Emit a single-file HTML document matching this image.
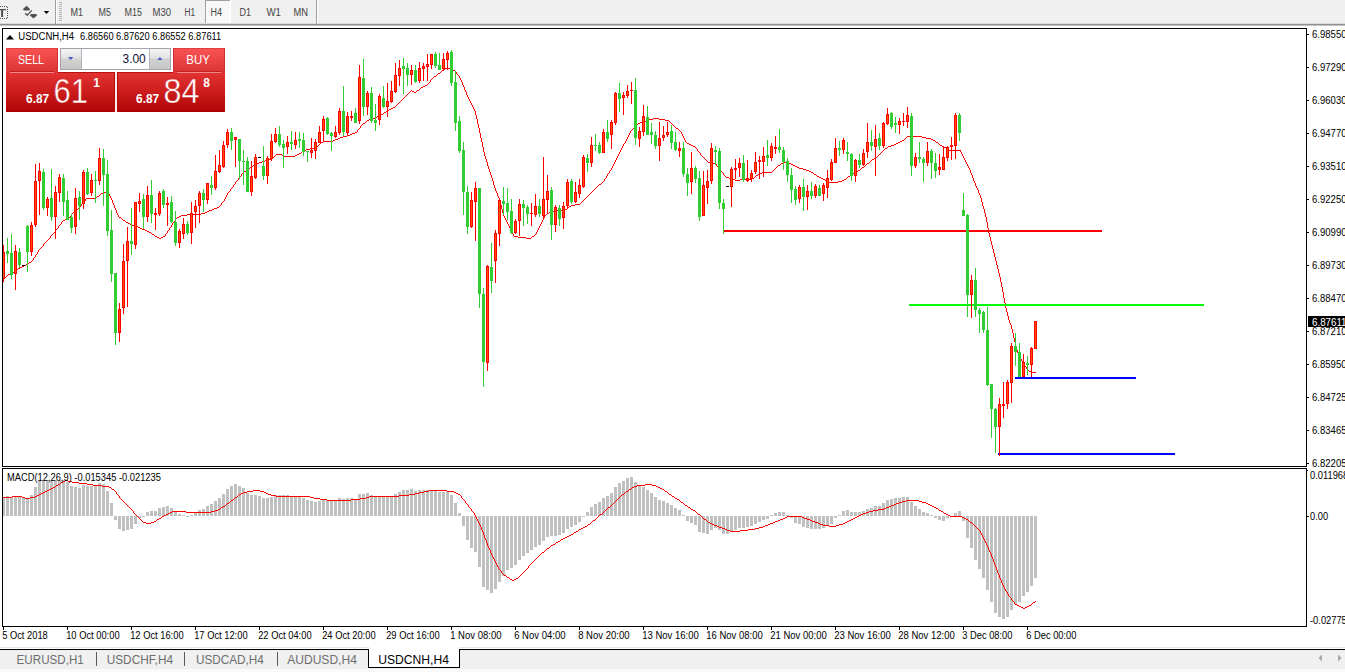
<!DOCTYPE html>
<html><head><meta charset="utf-8"><title>USDCNH,H4</title>
<style>
html,body{margin:0;padding:0;background:#fff;overflow:hidden}
body{width:1345px;height:672px;font-family:"Liberation Sans",sans-serif}
svg{display:block;font-family:"Liberation Sans",sans-serif}
</style></head><body>
<svg width="1345" height="672" viewBox="0 0 1345 672">
<rect x="0" y="0" width="1345" height="24" fill="#f0f0f0" />
<rect x="0" y="23" width="1345" height="1" fill="#dcdcdc" />
<rect x="0" y="24" width="1345" height="1" fill="#8e8e8e" />
<rect x="0" y="25" width="1345" height="1" fill="#c4c4c4" />
<path d="M0 9H6V10.3H3.1V17H1.1V10.3H0Z" fill="#505050"/>
<path d="M0 6.5H8M7.5 7V19M0 18.5H8" stroke="#505050" stroke-width="1" stroke-dasharray="1 1" fill="none"/>
<path d="M26.5 5.8L30.2 9.2L29 10.4H24L22.8 9.2Z" fill="#505050"/>
<path d="M33.5 18.6L29.8 15.2L31 14H36L37.2 15.2Z" fill="#505050"/>
<path d="M25.2 13.2L27.2 15.2L31.8 10.4" stroke="#505050" stroke-width="1.3" fill="none"/>
<path d="M43.8 11H49.2L46.5 14Z" fill="#000"/>
<rect x="55" y="0" width="1" height="24" fill="#a0a0a0" />
<rect x="56" y="0" width="1" height="24" fill="#ffffff" />
<rect x="59" y="2" width="3" height="1" fill="#b4b4b4" />
<rect x="59" y="4" width="3" height="1" fill="#b4b4b4" />
<rect x="59" y="6" width="3" height="1" fill="#b4b4b4" />
<rect x="59" y="8" width="3" height="1" fill="#b4b4b4" />
<rect x="59" y="10" width="3" height="1" fill="#b4b4b4" />
<rect x="59" y="12" width="3" height="1" fill="#b4b4b4" />
<rect x="59" y="14" width="3" height="1" fill="#b4b4b4" />
<rect x="59" y="16" width="3" height="1" fill="#b4b4b4" />
<rect x="59" y="18" width="3" height="1" fill="#b4b4b4" />
<rect x="59" y="20" width="3" height="1" fill="#b4b4b4" />
<rect x="205" y="0" width="25" height="23" fill="#f8f8f8" />
<rect x="205" y="0" width="25" height="1" fill="#a0a0a0" />
<rect x="205" y="0" width="1" height="23" fill="#a0a0a0" />
<rect x="230" y="0" width="1" height="23" fill="#ffffff" />
<rect x="316" y="0" width="1" height="24" fill="#a0a0a0" />
<rect x="317" y="0" width="1" height="24" fill="#ffffff" />
<text x="70.5" y="16" font-size="10" fill="#454545" textLength="12.5" lengthAdjust="spacingAndGlyphs" >M1</text>
<text x="98.5" y="16" font-size="10" fill="#454545" textLength="12.5" lengthAdjust="spacingAndGlyphs" >M5</text>
<text x="124.5" y="16" font-size="10" fill="#454545" textLength="17.5" lengthAdjust="spacingAndGlyphs" >M15</text>
<text x="152.5" y="16" font-size="10" fill="#454545" textLength="18.5" lengthAdjust="spacingAndGlyphs" >M30</text>
<text x="184.5" y="16" font-size="10" fill="#454545" textLength="10.5" lengthAdjust="spacingAndGlyphs" >H1</text>
<text x="210.5" y="16" font-size="10" fill="#454545" textLength="11.5" lengthAdjust="spacingAndGlyphs" >H4</text>
<text x="239.5" y="16" font-size="10" fill="#454545" textLength="11.5" lengthAdjust="spacingAndGlyphs" >D1</text>
<text x="266.5" y="16" font-size="10" fill="#454545" textLength="14.5" lengthAdjust="spacingAndGlyphs" >W1</text>
<text x="293.5" y="16" font-size="10" fill="#454545" textLength="14.5" lengthAdjust="spacingAndGlyphs" >MN</text>
<rect x="2.5" y="28.5" width="1304" height="438" fill="#fff" stroke="#000" stroke-width="1"/>
<rect x="2.5" y="468.5" width="1304" height="158" fill="#fff" stroke="#000" stroke-width="1"/>
<rect x="1307" y="34" width="2" height="1" fill="#000" />
<text x="1312" y="38" font-size="10" fill="#000" textLength="34.5" lengthAdjust="spacingAndGlyphs" >6.98550</text>
<rect x="1307" y="67" width="2" height="1" fill="#000" />
<text x="1312" y="71" font-size="10" fill="#000" textLength="34.5" lengthAdjust="spacingAndGlyphs" >6.97290</text>
<rect x="1307" y="100" width="2" height="1" fill="#000" />
<text x="1312" y="104" font-size="10" fill="#000" textLength="34.5" lengthAdjust="spacingAndGlyphs" >6.96030</text>
<rect x="1307" y="133" width="2" height="1" fill="#000" />
<text x="1312" y="137" font-size="10" fill="#000" textLength="34.5" lengthAdjust="spacingAndGlyphs" >6.94770</text>
<rect x="1307" y="166" width="2" height="1" fill="#000" />
<text x="1312" y="170" font-size="10" fill="#000" textLength="34.5" lengthAdjust="spacingAndGlyphs" >6.93510</text>
<rect x="1307" y="199" width="2" height="1" fill="#000" />
<text x="1312" y="203" font-size="10" fill="#000" textLength="34.5" lengthAdjust="spacingAndGlyphs" >6.92250</text>
<rect x="1307" y="232" width="2" height="1" fill="#000" />
<text x="1312" y="236" font-size="10" fill="#000" textLength="34.5" lengthAdjust="spacingAndGlyphs" >6.90990</text>
<rect x="1307" y="265" width="2" height="1" fill="#000" />
<text x="1312" y="269" font-size="10" fill="#000" textLength="34.5" lengthAdjust="spacingAndGlyphs" >6.89730</text>
<rect x="1307" y="298" width="2" height="1" fill="#000" />
<text x="1312" y="302" font-size="10" fill="#000" textLength="34.5" lengthAdjust="spacingAndGlyphs" >6.88470</text>
<rect x="1307" y="331" width="2" height="1" fill="#000" />
<text x="1312" y="335" font-size="10" fill="#000" textLength="34.5" lengthAdjust="spacingAndGlyphs" >6.87210</text>
<rect x="1307" y="364" width="2" height="1" fill="#000" />
<text x="1312" y="368" font-size="10" fill="#000" textLength="34.5" lengthAdjust="spacingAndGlyphs" >6.85950</text>
<rect x="1307" y="397" width="2" height="1" fill="#000" />
<text x="1312" y="401" font-size="10" fill="#000" textLength="34.5" lengthAdjust="spacingAndGlyphs" >6.84725</text>
<rect x="1307" y="430" width="2" height="1" fill="#000" />
<text x="1312" y="434" font-size="10" fill="#000" textLength="34.5" lengthAdjust="spacingAndGlyphs" >6.83465</text>
<rect x="1307" y="463" width="2" height="1" fill="#000" />
<text x="1312" y="467" font-size="10" fill="#000" textLength="34.5" lengthAdjust="spacingAndGlyphs" >6.82205</text>
<rect x="1308" y="316" width="37" height="11" fill="#000" />
<text x="1312" y="326" font-size="10" fill="#fff" textLength="34.5" lengthAdjust="spacingAndGlyphs" >6.87611</text>
<text x="1310" y="479.4" font-size="10" fill="#000" textLength="38.2" lengthAdjust="spacingAndGlyphs" >0.011968</text>
<text x="1310" y="520.4" font-size="10" fill="#000" textLength="18.1" lengthAdjust="spacingAndGlyphs" >0.00</text>
<text x="1310" y="624.4" font-size="10" fill="#000" textLength="36.8" lengthAdjust="spacingAndGlyphs" >-0.02775</text>
<rect x="1307" y="516" width="2" height="1" fill="#000" />
<rect x="1307" y="470" width="1" height="1" fill="#000" />
<rect x="3" y="627" width="1" height="3" fill="#000" />
<text x="2.2" y="639" font-size="10" fill="#000" textLength="45.6" lengthAdjust="spacingAndGlyphs" >5 Oct 2018</text>
<rect x="67" y="627" width="1" height="3" fill="#000" />
<text x="66.2" y="639" font-size="10" fill="#000" textLength="53.4" lengthAdjust="spacingAndGlyphs" >10 Oct 00:00</text>
<rect x="131" y="627" width="1" height="3" fill="#000" />
<text x="130.2" y="639" font-size="10" fill="#000" textLength="53.4" lengthAdjust="spacingAndGlyphs" >12 Oct 16:00</text>
<rect x="195" y="627" width="1" height="3" fill="#000" />
<text x="194.2" y="639" font-size="10" fill="#000" textLength="53.4" lengthAdjust="spacingAndGlyphs" >17 Oct 12:00</text>
<rect x="259" y="627" width="1" height="3" fill="#000" />
<text x="258.2" y="639" font-size="10" fill="#000" textLength="53.4" lengthAdjust="spacingAndGlyphs" >22 Oct 04:00</text>
<rect x="323" y="627" width="1" height="3" fill="#000" />
<text x="322.2" y="639" font-size="10" fill="#000" textLength="53.4" lengthAdjust="spacingAndGlyphs" >24 Oct 20:00</text>
<rect x="387" y="627" width="1" height="3" fill="#000" />
<text x="386.2" y="639" font-size="10" fill="#000" textLength="53.4" lengthAdjust="spacingAndGlyphs" >29 Oct 16:00</text>
<rect x="451" y="627" width="1" height="3" fill="#000" />
<text x="450.2" y="639" font-size="10" fill="#000" textLength="51.3" lengthAdjust="spacingAndGlyphs" >1 Nov 08:00</text>
<rect x="515" y="627" width="1" height="3" fill="#000" />
<text x="514.2" y="639" font-size="10" fill="#000" textLength="51.3" lengthAdjust="spacingAndGlyphs" >6 Nov 04:00</text>
<rect x="579" y="627" width="1" height="3" fill="#000" />
<text x="578.2" y="639" font-size="10" fill="#000" textLength="51.3" lengthAdjust="spacingAndGlyphs" >8 Nov 20:00</text>
<rect x="643" y="627" width="1" height="3" fill="#000" />
<text x="642.2" y="639" font-size="10" fill="#000" textLength="56.6" lengthAdjust="spacingAndGlyphs" >13 Nov 16:00</text>
<rect x="707" y="627" width="1" height="3" fill="#000" />
<text x="706.2" y="639" font-size="10" fill="#000" textLength="56.6" lengthAdjust="spacingAndGlyphs" >16 Nov 08:00</text>
<rect x="771" y="627" width="1" height="3" fill="#000" />
<text x="770.2" y="639" font-size="10" fill="#000" textLength="56.6" lengthAdjust="spacingAndGlyphs" >21 Nov 00:00</text>
<rect x="835" y="627" width="1" height="3" fill="#000" />
<text x="834.2" y="639" font-size="10" fill="#000" textLength="56.6" lengthAdjust="spacingAndGlyphs" >23 Nov 16:00</text>
<rect x="899" y="627" width="1" height="3" fill="#000" />
<text x="898.2" y="639" font-size="10" fill="#000" textLength="56.6" lengthAdjust="spacingAndGlyphs" >28 Nov 12:00</text>
<rect x="963" y="627" width="1" height="3" fill="#000" />
<text x="962.2" y="639" font-size="10" fill="#000" textLength="50.3" lengthAdjust="spacingAndGlyphs" >3 Dec 08:00</text>
<rect x="1027" y="627" width="1" height="3" fill="#000" />
<text x="1026.2" y="639" font-size="10" fill="#000" textLength="50.3" lengthAdjust="spacingAndGlyphs" >6 Dec 00:00</text>
<rect x="0" y="647" width="1345" height="1" fill="#e6e6e6" />
<rect x="0" y="649" width="1345" height="1" fill="#000" />
<rect x="0" y="650" width="1345" height="19" fill="#f0f0f0" />
<rect x="0" y="669" width="1345" height="3" fill="#fafafa" />
<defs><clipPath id="c1"><rect x="3" y="29" width="1303" height="437"/></clipPath><clipPath id="c2"><rect x="3" y="469" width="1303" height="157"/></clipPath></defs>
<g clip-path="url(#c2)" shape-rendering="crispEdges">
<rect x="2" y="497" width="3" height="19" fill="#c0c0c0" />
<rect x="6" y="496" width="3" height="20" fill="#c0c0c0" />
<rect x="10" y="497" width="3" height="19" fill="#c0c0c0" />
<rect x="14" y="497" width="3" height="19" fill="#c0c0c0" />
<rect x="18" y="497" width="3" height="19" fill="#c0c0c0" />
<rect x="22" y="498" width="3" height="18" fill="#c0c0c0" />
<rect x="26" y="498" width="3" height="18" fill="#c0c0c0" />
<rect x="30" y="495" width="3" height="21" fill="#c0c0c0" />
<rect x="34" y="487" width="3" height="29" fill="#c0c0c0" />
<rect x="38" y="481" width="3" height="35" fill="#c0c0c0" />
<rect x="42" y="480" width="3" height="36" fill="#c0c0c0" />
<rect x="46" y="480" width="3" height="36" fill="#c0c0c0" />
<rect x="50" y="480" width="3" height="36" fill="#c0c0c0" />
<rect x="54" y="480" width="3" height="36" fill="#c0c0c0" />
<rect x="58" y="480" width="3" height="36" fill="#c0c0c0" />
<rect x="62" y="480" width="3" height="36" fill="#c0c0c0" />
<rect x="66" y="482" width="3" height="34" fill="#c0c0c0" />
<rect x="70" y="486" width="3" height="30" fill="#c0c0c0" />
<rect x="74" y="487" width="3" height="29" fill="#c0c0c0" />
<rect x="78" y="488" width="3" height="28" fill="#c0c0c0" />
<rect x="82" y="485" width="3" height="31" fill="#c0c0c0" />
<rect x="86" y="486" width="3" height="30" fill="#c0c0c0" />
<rect x="90" y="486" width="3" height="30" fill="#c0c0c0" />
<rect x="94" y="486" width="3" height="30" fill="#c0c0c0" />
<rect x="98" y="483" width="3" height="33" fill="#c0c0c0" />
<rect x="102" y="484" width="3" height="32" fill="#c0c0c0" />
<rect x="106" y="491" width="3" height="25" fill="#c0c0c0" />
<rect x="110" y="503" width="3" height="13" fill="#c0c0c0" />
<rect x="114" y="516" width="3" height="4" fill="#c0c0c0" />
<rect x="118" y="516" width="3" height="13" fill="#c0c0c0" />
<rect x="122" y="516" width="3" height="15" fill="#c0c0c0" />
<rect x="126" y="516" width="3" height="14" fill="#c0c0c0" />
<rect x="130" y="516" width="3" height="13" fill="#c0c0c0" />
<rect x="134" y="516" width="3" height="8" fill="#c0c0c0" />
<rect x="138" y="516" width="3" height="2" fill="#c0c0c0" />
<rect x="142" y="516" width="3" height="1" fill="#c0c0c0" />
<rect x="146" y="512" width="3" height="4" fill="#c0c0c0" />
<rect x="150" y="511" width="3" height="5" fill="#c0c0c0" />
<rect x="154" y="511" width="3" height="5" fill="#c0c0c0" />
<rect x="158" y="508" width="3" height="8" fill="#c0c0c0" />
<rect x="162" y="507" width="3" height="9" fill="#c0c0c0" />
<rect x="166" y="506" width="3" height="10" fill="#c0c0c0" />
<rect x="170" y="508" width="3" height="8" fill="#c0c0c0" />
<rect x="174" y="512" width="3" height="4" fill="#c0c0c0" />
<rect x="178" y="514" width="3" height="2" fill="#c0c0c0" />
<rect x="182" y="515" width="3" height="1" fill="#c0c0c0" />
<rect x="186" y="516" width="3" height="1" fill="#c0c0c0" />
<rect x="190" y="515" width="3" height="1" fill="#c0c0c0" />
<rect x="194" y="512" width="3" height="4" fill="#c0c0c0" />
<rect x="198" y="510" width="3" height="6" fill="#c0c0c0" />
<rect x="202" y="509" width="3" height="7" fill="#c0c0c0" />
<rect x="206" y="506" width="3" height="10" fill="#c0c0c0" />
<rect x="210" y="504" width="3" height="12" fill="#c0c0c0" />
<rect x="214" y="501" width="3" height="15" fill="#c0c0c0" />
<rect x="218" y="498" width="3" height="18" fill="#c0c0c0" />
<rect x="222" y="494" width="3" height="22" fill="#c0c0c0" />
<rect x="226" y="489" width="3" height="27" fill="#c0c0c0" />
<rect x="230" y="486" width="3" height="30" fill="#c0c0c0" />
<rect x="234" y="484" width="3" height="32" fill="#c0c0c0" />
<rect x="238" y="486" width="3" height="30" fill="#c0c0c0" />
<rect x="242" y="488" width="3" height="28" fill="#c0c0c0" />
<rect x="246" y="493" width="3" height="23" fill="#c0c0c0" />
<rect x="250" y="495" width="3" height="21" fill="#c0c0c0" />
<rect x="254" y="495" width="3" height="21" fill="#c0c0c0" />
<rect x="258" y="496" width="3" height="20" fill="#c0c0c0" />
<rect x="262" y="498" width="3" height="18" fill="#c0c0c0" />
<rect x="266" y="498" width="3" height="18" fill="#c0c0c0" />
<rect x="270" y="497" width="3" height="19" fill="#c0c0c0" />
<rect x="274" y="495" width="3" height="21" fill="#c0c0c0" />
<rect x="278" y="495" width="3" height="21" fill="#c0c0c0" />
<rect x="282" y="495" width="3" height="21" fill="#c0c0c0" />
<rect x="286" y="495" width="3" height="21" fill="#c0c0c0" />
<rect x="290" y="496" width="3" height="20" fill="#c0c0c0" />
<rect x="294" y="496" width="3" height="20" fill="#c0c0c0" />
<rect x="298" y="496" width="3" height="20" fill="#c0c0c0" />
<rect x="302" y="498" width="3" height="18" fill="#c0c0c0" />
<rect x="306" y="500" width="3" height="16" fill="#c0c0c0" />
<rect x="310" y="501" width="3" height="15" fill="#c0c0c0" />
<rect x="314" y="502" width="3" height="14" fill="#c0c0c0" />
<rect x="318" y="501" width="3" height="15" fill="#c0c0c0" />
<rect x="322" y="500" width="3" height="16" fill="#c0c0c0" />
<rect x="326" y="500" width="3" height="16" fill="#c0c0c0" />
<rect x="330" y="501" width="3" height="15" fill="#c0c0c0" />
<rect x="334" y="500" width="3" height="16" fill="#c0c0c0" />
<rect x="338" y="498" width="3" height="18" fill="#c0c0c0" />
<rect x="342" y="499" width="3" height="17" fill="#c0c0c0" />
<rect x="346" y="498" width="3" height="18" fill="#c0c0c0" />
<rect x="350" y="498" width="3" height="18" fill="#c0c0c0" />
<rect x="354" y="499" width="3" height="17" fill="#c0c0c0" />
<rect x="358" y="494" width="3" height="22" fill="#c0c0c0" />
<rect x="362" y="494" width="3" height="22" fill="#c0c0c0" />
<rect x="366" y="493" width="3" height="23" fill="#c0c0c0" />
<rect x="370" y="495" width="3" height="21" fill="#c0c0c0" />
<rect x="374" y="496" width="3" height="20" fill="#c0c0c0" />
<rect x="378" y="496" width="3" height="20" fill="#c0c0c0" />
<rect x="382" y="496" width="3" height="20" fill="#c0c0c0" />
<rect x="386" y="496" width="3" height="20" fill="#c0c0c0" />
<rect x="390" y="496" width="3" height="20" fill="#c0c0c0" />
<rect x="394" y="494" width="3" height="22" fill="#c0c0c0" />
<rect x="398" y="492" width="3" height="24" fill="#c0c0c0" />
<rect x="402" y="490" width="3" height="26" fill="#c0c0c0" />
<rect x="406" y="490" width="3" height="26" fill="#c0c0c0" />
<rect x="410" y="489" width="3" height="27" fill="#c0c0c0" />
<rect x="414" y="491" width="3" height="25" fill="#c0c0c0" />
<rect x="418" y="490" width="3" height="26" fill="#c0c0c0" />
<rect x="422" y="490" width="3" height="26" fill="#c0c0c0" />
<rect x="426" y="490" width="3" height="26" fill="#c0c0c0" />
<rect x="430" y="490" width="3" height="26" fill="#c0c0c0" />
<rect x="434" y="490" width="3" height="26" fill="#c0c0c0" />
<rect x="438" y="492" width="3" height="24" fill="#c0c0c0" />
<rect x="442" y="492" width="3" height="24" fill="#c0c0c0" />
<rect x="446" y="492" width="3" height="24" fill="#c0c0c0" />
<rect x="450" y="495" width="3" height="21" fill="#c0c0c0" />
<rect x="454" y="503" width="3" height="13" fill="#c0c0c0" />
<rect x="458" y="513" width="3" height="3" fill="#c0c0c0" />
<rect x="462" y="516" width="3" height="10" fill="#c0c0c0" />
<rect x="466" y="516" width="3" height="24" fill="#c0c0c0" />
<rect x="470" y="516" width="3" height="32" fill="#c0c0c0" />
<rect x="474" y="516" width="3" height="36" fill="#c0c0c0" />
<rect x="478" y="516" width="3" height="51" fill="#c0c0c0" />
<rect x="482" y="516" width="3" height="71" fill="#c0c0c0" />
<rect x="486" y="516" width="3" height="74" fill="#c0c0c0" />
<rect x="490" y="516" width="3" height="77" fill="#c0c0c0" />
<rect x="494" y="516" width="3" height="73" fill="#c0c0c0" />
<rect x="498" y="516" width="3" height="66" fill="#c0c0c0" />
<rect x="502" y="516" width="3" height="60" fill="#c0c0c0" />
<rect x="506" y="516" width="3" height="54" fill="#c0c0c0" />
<rect x="510" y="516" width="3" height="52" fill="#c0c0c0" />
<rect x="514" y="516" width="3" height="49" fill="#c0c0c0" />
<rect x="518" y="516" width="3" height="44" fill="#c0c0c0" />
<rect x="522" y="516" width="3" height="40" fill="#c0c0c0" />
<rect x="526" y="516" width="3" height="37" fill="#c0c0c0" />
<rect x="530" y="516" width="3" height="34" fill="#c0c0c0" />
<rect x="534" y="516" width="3" height="31" fill="#c0c0c0" />
<rect x="538" y="516" width="3" height="29" fill="#c0c0c0" />
<rect x="542" y="516" width="3" height="25" fill="#c0c0c0" />
<rect x="546" y="516" width="3" height="21" fill="#c0c0c0" />
<rect x="550" y="516" width="3" height="20" fill="#c0c0c0" />
<rect x="554" y="516" width="3" height="20" fill="#c0c0c0" />
<rect x="558" y="516" width="3" height="19" fill="#c0c0c0" />
<rect x="562" y="516" width="3" height="17" fill="#c0c0c0" />
<rect x="566" y="516" width="3" height="13" fill="#c0c0c0" />
<rect x="570" y="516" width="3" height="11" fill="#c0c0c0" />
<rect x="574" y="516" width="3" height="9" fill="#c0c0c0" />
<rect x="578" y="516" width="3" height="6" fill="#c0c0c0" />
<rect x="582" y="516" width="3" height="1" fill="#c0c0c0" />
<rect x="586" y="512" width="3" height="4" fill="#c0c0c0" />
<rect x="590" y="507" width="3" height="9" fill="#c0c0c0" />
<rect x="594" y="504" width="3" height="12" fill="#c0c0c0" />
<rect x="598" y="502" width="3" height="14" fill="#c0c0c0" />
<rect x="602" y="498" width="3" height="18" fill="#c0c0c0" />
<rect x="606" y="496" width="3" height="20" fill="#c0c0c0" />
<rect x="610" y="493" width="3" height="23" fill="#c0c0c0" />
<rect x="614" y="487" width="3" height="29" fill="#c0c0c0" />
<rect x="618" y="483" width="3" height="33" fill="#c0c0c0" />
<rect x="622" y="481" width="3" height="35" fill="#c0c0c0" />
<rect x="626" y="478" width="3" height="38" fill="#c0c0c0" />
<rect x="630" y="477" width="3" height="39" fill="#c0c0c0" />
<rect x="634" y="482" width="3" height="34" fill="#c0c0c0" />
<rect x="638" y="485" width="3" height="31" fill="#c0c0c0" />
<rect x="642" y="487" width="3" height="29" fill="#c0c0c0" />
<rect x="646" y="490" width="3" height="26" fill="#c0c0c0" />
<rect x="650" y="493" width="3" height="23" fill="#c0c0c0" />
<rect x="654" y="497" width="3" height="19" fill="#c0c0c0" />
<rect x="658" y="500" width="3" height="16" fill="#c0c0c0" />
<rect x="662" y="501" width="3" height="15" fill="#c0c0c0" />
<rect x="666" y="503" width="3" height="13" fill="#c0c0c0" />
<rect x="670" y="505" width="3" height="11" fill="#c0c0c0" />
<rect x="674" y="508" width="3" height="8" fill="#c0c0c0" />
<rect x="678" y="510" width="3" height="6" fill="#c0c0c0" />
<rect x="682" y="515" width="3" height="1" fill="#c0c0c0" />
<rect x="686" y="516" width="3" height="5" fill="#c0c0c0" />
<rect x="690" y="516" width="3" height="7" fill="#c0c0c0" />
<rect x="694" y="516" width="3" height="9" fill="#c0c0c0" />
<rect x="698" y="516" width="3" height="16" fill="#c0c0c0" />
<rect x="702" y="516" width="3" height="17" fill="#c0c0c0" />
<rect x="706" y="516" width="3" height="18" fill="#c0c0c0" />
<rect x="710" y="516" width="3" height="14" fill="#c0c0c0" />
<rect x="714" y="516" width="3" height="12" fill="#c0c0c0" />
<rect x="718" y="516" width="3" height="14" fill="#c0c0c0" />
<rect x="722" y="516" width="3" height="18" fill="#c0c0c0" />
<rect x="726" y="516" width="3" height="18" fill="#c0c0c0" />
<rect x="730" y="516" width="3" height="16" fill="#c0c0c0" />
<rect x="734" y="516" width="3" height="14" fill="#c0c0c0" />
<rect x="738" y="516" width="3" height="12" fill="#c0c0c0" />
<rect x="742" y="516" width="3" height="12" fill="#c0c0c0" />
<rect x="746" y="516" width="3" height="11" fill="#c0c0c0" />
<rect x="750" y="516" width="3" height="10" fill="#c0c0c0" />
<rect x="754" y="516" width="3" height="8" fill="#c0c0c0" />
<rect x="758" y="516" width="3" height="6" fill="#c0c0c0" />
<rect x="762" y="516" width="3" height="4" fill="#c0c0c0" />
<rect x="766" y="516" width="3" height="3" fill="#c0c0c0" />
<rect x="770" y="515" width="3" height="1" fill="#c0c0c0" />
<rect x="774" y="513" width="3" height="3" fill="#c0c0c0" />
<rect x="778" y="512" width="3" height="4" fill="#c0c0c0" />
<rect x="782" y="512" width="3" height="4" fill="#c0c0c0" />
<rect x="786" y="515" width="3" height="1" fill="#c0c0c0" />
<rect x="790" y="516" width="3" height="2" fill="#c0c0c0" />
<rect x="794" y="516" width="3" height="7" fill="#c0c0c0" />
<rect x="798" y="516" width="3" height="8" fill="#c0c0c0" />
<rect x="802" y="516" width="3" height="11" fill="#c0c0c0" />
<rect x="806" y="516" width="3" height="12" fill="#c0c0c0" />
<rect x="810" y="516" width="3" height="13" fill="#c0c0c0" />
<rect x="814" y="516" width="3" height="13" fill="#c0c0c0" />
<rect x="818" y="516" width="3" height="13" fill="#c0c0c0" />
<rect x="822" y="516" width="3" height="12" fill="#c0c0c0" />
<rect x="826" y="516" width="3" height="10" fill="#c0c0c0" />
<rect x="830" y="516" width="3" height="8" fill="#c0c0c0" />
<rect x="834" y="516" width="3" height="2" fill="#c0c0c0" />
<rect x="838" y="515" width="3" height="1" fill="#c0c0c0" />
<rect x="842" y="511" width="3" height="5" fill="#c0c0c0" />
<rect x="846" y="510" width="3" height="6" fill="#c0c0c0" />
<rect x="850" y="512" width="3" height="4" fill="#c0c0c0" />
<rect x="854" y="512" width="3" height="4" fill="#c0c0c0" />
<rect x="858" y="512" width="3" height="4" fill="#c0c0c0" />
<rect x="862" y="511" width="3" height="5" fill="#c0c0c0" />
<rect x="866" y="509" width="3" height="7" fill="#c0c0c0" />
<rect x="870" y="508" width="3" height="8" fill="#c0c0c0" />
<rect x="874" y="506" width="3" height="10" fill="#c0c0c0" />
<rect x="878" y="506" width="3" height="10" fill="#c0c0c0" />
<rect x="882" y="503" width="3" height="13" fill="#c0c0c0" />
<rect x="886" y="500" width="3" height="16" fill="#c0c0c0" />
<rect x="890" y="499" width="3" height="17" fill="#c0c0c0" />
<rect x="894" y="498" width="3" height="18" fill="#c0c0c0" />
<rect x="898" y="498" width="3" height="18" fill="#c0c0c0" />
<rect x="902" y="497" width="3" height="19" fill="#c0c0c0" />
<rect x="906" y="497" width="3" height="19" fill="#c0c0c0" />
<rect x="910" y="502" width="3" height="14" fill="#c0c0c0" />
<rect x="914" y="506" width="3" height="10" fill="#c0c0c0" />
<rect x="918" y="509" width="3" height="7" fill="#c0c0c0" />
<rect x="922" y="512" width="3" height="4" fill="#c0c0c0" />
<rect x="926" y="513" width="3" height="3" fill="#c0c0c0" />
<rect x="930" y="515" width="3" height="1" fill="#c0c0c0" />
<rect x="934" y="516" width="3" height="2" fill="#c0c0c0" />
<rect x="938" y="516" width="3" height="4" fill="#c0c0c0" />
<rect x="942" y="516" width="3" height="5" fill="#c0c0c0" />
<rect x="946" y="516" width="3" height="2" fill="#c0c0c0" />
<rect x="950" y="516" width="3" height="1" fill="#c0c0c0" />
<rect x="954" y="513" width="3" height="3" fill="#c0c0c0" />
<rect x="958" y="511" width="3" height="5" fill="#c0c0c0" />
<rect x="962" y="516" width="3" height="5" fill="#c0c0c0" />
<rect x="966" y="516" width="3" height="22" fill="#c0c0c0" />
<rect x="970" y="516" width="3" height="32" fill="#c0c0c0" />
<rect x="974" y="516" width="3" height="44" fill="#c0c0c0" />
<rect x="978" y="516" width="3" height="53" fill="#c0c0c0" />
<rect x="982" y="516" width="3" height="62" fill="#c0c0c0" />
<rect x="986" y="516" width="3" height="74" fill="#c0c0c0" />
<rect x="990" y="516" width="3" height="86" fill="#c0c0c0" />
<rect x="994" y="516" width="3" height="97" fill="#c0c0c0" />
<rect x="998" y="516" width="3" height="101" fill="#c0c0c0" />
<rect x="1002" y="516" width="3" height="103" fill="#c0c0c0" />
<rect x="1006" y="516" width="3" height="101" fill="#c0c0c0" />
<rect x="1010" y="516" width="3" height="94" fill="#c0c0c0" />
<rect x="1014" y="516" width="3" height="88" fill="#c0c0c0" />
<rect x="1018" y="516" width="3" height="86" fill="#c0c0c0" />
<rect x="1022" y="516" width="3" height="80" fill="#c0c0c0" />
<rect x="1026" y="516" width="3" height="76" fill="#c0c0c0" />
<rect x="1030" y="516" width="3" height="70" fill="#c0c0c0" />
<rect x="1034" y="516" width="3" height="62" fill="#c0c0c0" />
</g>
<g clip-path="url(#c2)"><path d="M65 480.5h3M63 481.5h2M68 481.5h4M61 482.5h2M72 482.5h7M60 483.5h1M79 483.5h8M58 484.5h2M87 484.5h6M645 484.5h7M56 485.5h2M93 485.5h9M637 485.5h8M652 485.5h4M55 486.5h1M102 486.5h7M634 486.5h3M656 486.5h2M53 487.5h2M109 487.5h2M632 487.5h2M658 487.5h2M51 488.5h2M111 488.5h1M631 488.5h1M660 488.5h2M49 489.5h2M112 489.5h2M629 489.5h2M662 489.5h2M47 490.5h2M114 490.5h1M253 490.5h7M429 490.5h18M628 490.5h1M664 490.5h1M45 491.5h2M115 491.5h1M247 491.5h6M260 491.5h4M424 491.5h5M447 491.5h7M626 491.5h2M665 491.5h2M43 492.5h2M116 492.5h1M243 492.5h4M264 492.5h2M419 492.5h5M454 492.5h2M625 492.5h1M667 492.5h1M41 493.5h2M116 493.5h1M241 493.5h2M266 493.5h2M415 493.5h4M456 493.5h2M624 493.5h1M668 493.5h1M39 494.5h2M117 494.5h1M239 494.5h2M268 494.5h3M409 494.5h6M458 494.5h2M622 494.5h2M669 494.5h2M37 495.5h2M118 495.5h1M238 495.5h1M271 495.5h5M399 495.5h10M460 495.5h1M621 495.5h1M671 495.5h1M12 496.5h10M35 496.5h2M119 496.5h1M237 496.5h1M276 496.5h34M369 496.5h30M461 496.5h1M620 496.5h1M672 496.5h2M3 497.5h9M22 497.5h3M30 497.5h5M119 497.5h1M235 497.5h2M310 497.5h4M366 497.5h3M461 497.5h1M619 497.5h1M674 497.5h1M25 498.5h5M120 498.5h1M234 498.5h1M314 498.5h6M360 498.5h6M462 498.5h1M618 498.5h1M675 498.5h2M121 499.5h1M233 499.5h1M320 499.5h7M351 499.5h9M463 499.5h1M617 499.5h1M677 499.5h2M122 500.5h1M231 500.5h2M327 500.5h24M464 500.5h1M616 500.5h1M679 500.5h1M906 500.5h13M123 501.5h1M230 501.5h1M465 501.5h1M615 501.5h1M680 501.5h1M902 501.5h4M919 501.5h3M124 502.5h1M229 502.5h1M465 502.5h1M614 502.5h1M681 502.5h2M899 502.5h3M922 502.5h4M125 503.5h1M227 503.5h2M466 503.5h1M613 503.5h1M683 503.5h1M896 503.5h3M926 503.5h2M126 504.5h1M226 504.5h1M467 504.5h1M612 504.5h1M684 504.5h1M894 504.5h2M928 504.5h2M127 505.5h1M225 505.5h1M468 505.5h1M611 505.5h1M685 505.5h2M891 505.5h3M930 505.5h2M128 506.5h1M223 506.5h2M468 506.5h1M610 506.5h1M687 506.5h1M889 506.5h2M932 506.5h2M129 507.5h1M221 507.5h2M469 507.5h1M608 507.5h2M688 507.5h2M886 507.5h3M934 507.5h2M130 508.5h1M220 508.5h1M470 508.5h1M607 508.5h1M690 508.5h1M884 508.5h2M936 508.5h2M131 509.5h1M218 509.5h2M471 509.5h1M606 509.5h1M691 509.5h2M878 509.5h6M938 509.5h1M132 510.5h1M215 510.5h3M471 510.5h1M605 510.5h1M693 510.5h2M873 510.5h5M939 510.5h2M133 511.5h1M172 511.5h14M211 511.5h4M472 511.5h1M604 511.5h1M695 511.5h1M869 511.5h4M941 511.5h2M133 512.5h1M170 512.5h2M186 512.5h25M473 512.5h1M603 512.5h1M696 512.5h1M866 512.5h3M943 512.5h1M134 513.5h1M168 513.5h2M474 513.5h1M602 513.5h1M697 513.5h1M863 513.5h3M944 513.5h2M135 514.5h1M166 514.5h2M474 514.5h1M600 514.5h2M698 514.5h2M861 514.5h2M946 514.5h2M136 515.5h1M164 515.5h2M475 515.5h1M599 515.5h1M700 515.5h1M859 515.5h2M948 515.5h2M137 516.5h1M162 516.5h2M475 516.5h1M598 516.5h1M701 516.5h1M787 516.5h15M857 516.5h2M950 516.5h12M138 517.5h1M161 517.5h1M476 517.5h1M597 517.5h1M702 517.5h1M785 517.5h2M802 517.5h2M855 517.5h2M962 517.5h2M139 518.5h1M159 518.5h2M476 518.5h1M596 518.5h1M703 518.5h1M783 518.5h2M804 518.5h3M853 518.5h2M964 518.5h2M140 519.5h1M157 519.5h2M477 519.5h1M595 519.5h1M704 519.5h2M780 519.5h3M807 519.5h3M851 519.5h2M966 519.5h2M141 520.5h1M156 520.5h1M477 520.5h1M593 520.5h2M706 520.5h1M778 520.5h2M810 520.5h2M849 520.5h2M968 520.5h1M142 521.5h1M154 521.5h2M478 521.5h1M592 521.5h1M707 521.5h1M775 521.5h3M812 521.5h3M847 521.5h2M969 521.5h1M143 522.5h3M151 522.5h3M478 522.5h1M591 522.5h1M708 522.5h2M773 522.5h2M815 522.5h3M845 522.5h2M970 522.5h2M146 523.5h5M479 523.5h1M590 523.5h1M710 523.5h2M770 523.5h3M818 523.5h2M843 523.5h2M972 523.5h1M479 524.5h1M588 524.5h2M712 524.5h2M768 524.5h2M820 524.5h3M839 524.5h4M973 524.5h1M480 525.5h1M587 525.5h1M714 525.5h3M765 525.5h3M823 525.5h6M836 525.5h3M974 525.5h1M480 526.5h1M585 526.5h2M717 526.5h2M763 526.5h2M829 526.5h7M975 526.5h1M481 527.5h1M583 527.5h2M719 527.5h3M759 527.5h4M976 527.5h1M481 528.5h1M581 528.5h2M722 528.5h3M755 528.5h4M977 528.5h1M481 529.5h1M579 529.5h2M725 529.5h2M748 529.5h7M978 529.5h1M482 530.5h1M578 530.5h1M727 530.5h3M740 530.5h8M979 530.5h1M482 531.5h1M576 531.5h2M730 531.5h10M980 531.5h1M483 532.5h1M574 532.5h2M980 532.5h1M483 533.5h1M573 533.5h1M981 533.5h1M483 534.5h1M571 534.5h2M981 534.5h1M484 535.5h1M569 535.5h2M982 535.5h1M484 536.5h1M567 536.5h2M982 536.5h1M484 537.5h1M565 537.5h2M983 537.5h1M485 538.5h1M563 538.5h2M983 538.5h1M485 539.5h1M561 539.5h2M984 539.5h1M486 540.5h1M560 540.5h1M984 540.5h1M486 541.5h1M558 541.5h2M985 541.5h1M486 542.5h1M556 542.5h2M985 542.5h1M487 543.5h1M555 543.5h1M986 543.5h1M487 544.5h1M553 544.5h2M986 544.5h1M487 545.5h1M551 545.5h2M987 545.5h1M488 546.5h1M550 546.5h1M987 546.5h1M488 547.5h1M549 547.5h1M988 547.5h1M489 548.5h1M547 548.5h2M988 548.5h1M489 549.5h1M546 549.5h1M988 549.5h1M490 550.5h1M545 550.5h1M989 550.5h1M490 551.5h1M544 551.5h1M989 551.5h1M490 552.5h1M542 552.5h2M990 552.5h1M491 553.5h1M541 553.5h1M990 553.5h1M491 554.5h1M540 554.5h1M991 554.5h1M492 555.5h1M539 555.5h1M991 555.5h1M492 556.5h1M538 556.5h1M991 556.5h1M493 557.5h1M537 557.5h1M992 557.5h1M493 558.5h1M536 558.5h1M992 558.5h1M494 559.5h1M535 559.5h1M993 559.5h1M494 560.5h1M534 560.5h1M993 560.5h1M495 561.5h1M533 561.5h1M993 561.5h1M495 562.5h1M532 562.5h1M994 562.5h1M496 563.5h1M531 563.5h1M994 563.5h1M496 564.5h1M530 564.5h1M994 564.5h1M497 565.5h1M529 565.5h1M995 565.5h1M497 566.5h1M528 566.5h1M995 566.5h1M498 567.5h1M528 567.5h1M996 567.5h1M498 568.5h1M527 568.5h1M996 568.5h1M499 569.5h1M526 569.5h1M996 569.5h1M500 570.5h1M525 570.5h1M997 570.5h1M501 571.5h1M524 571.5h1M997 571.5h1M501 572.5h1M523 572.5h1M997 572.5h1M502 573.5h1M522 573.5h1M998 573.5h1M503 574.5h1M521 574.5h1M998 574.5h1M504 575.5h2M520 575.5h1M999 575.5h1M506 576.5h1M519 576.5h1M999 576.5h1M507 577.5h2M518 577.5h1M999 577.5h1M509 578.5h1M516 578.5h2M1000 578.5h1M510 579.5h2M514 579.5h2M1000 579.5h1M512 580.5h2M1001 580.5h1M1001 581.5h1M1001 582.5h1M1002 583.5h1M1002 584.5h1M1003 585.5h1M1003 586.5h1M1004 587.5h1M1004 588.5h1M1005 589.5h1M1005 590.5h1M1006 591.5h1M1007 592.5h1M1007 593.5h1M1008 594.5h1M1008 595.5h1M1009 596.5h1M1010 597.5h1M1011 598.5h1M1011 599.5h1M1012 600.5h1M1013 601.5h1M1035 601.5h1M1014 602.5h1M1033 602.5h2M1014 603.5h1M1032 603.5h1M1015 604.5h2M1031 604.5h1M1017 605.5h2M1029 605.5h2M1019 606.5h2M1027 606.5h2M1021 607.5h2M1025 607.5h2M1023 608.5h2" stroke="#ff0000" stroke-width="1" fill="none" shape-rendering="crispEdges"/></g>
<g clip-path="url(#c1)"><path d="M445 68.5h6M444 69.5h1M451 69.5h2M442 70.5h2M453 70.5h2M441 71.5h1M455 71.5h1M440 72.5h1M456 72.5h1M438 73.5h2M456 73.5h1M437 74.5h1M457 74.5h1M436 75.5h1M458 75.5h1M434 76.5h2M459 76.5h1M433 77.5h1M459 77.5h1M432 78.5h1M460 78.5h1M431 79.5h1M460 79.5h1M430 80.5h1M461 80.5h1M430 81.5h1M461 81.5h1M429 82.5h1M462 82.5h1M428 83.5h1M462 83.5h1M427 84.5h1M462 84.5h1M425 85.5h2M463 85.5h1M423 86.5h2M463 86.5h1M421 87.5h2M464 87.5h1M420 88.5h1M464 88.5h1M419 89.5h1M464 89.5h1M411 90.5h1M417 90.5h2M465 90.5h1M410 91.5h1M412 91.5h2M416 91.5h1M465 91.5h1M409 92.5h1M414 92.5h2M466 92.5h1M408 93.5h1M466 93.5h1M407 94.5h1M466 94.5h1M406 95.5h1M467 95.5h1M405 96.5h1M467 96.5h1M404 97.5h1M468 97.5h1M403 98.5h1M468 98.5h1M402 99.5h1M469 99.5h1M401 100.5h1M469 100.5h1M400 101.5h1M470 101.5h1M399 102.5h1M470 102.5h1M398 103.5h1M471 103.5h1M397 104.5h1M471 104.5h1M396 105.5h1M472 105.5h1M395 106.5h1M472 106.5h1M393 107.5h2M473 107.5h1M391 108.5h2M473 108.5h1M389 109.5h2M474 109.5h1M388 110.5h1M474 110.5h1M386 111.5h2M475 111.5h1M384 112.5h2M475 112.5h1M383 113.5h1M475 113.5h1M381 114.5h2M475 114.5h1M379 115.5h2M476 115.5h1M377 116.5h2M476 116.5h1M375 117.5h2M476 117.5h1M371 118.5h4M476 118.5h1M653 118.5h6M369 119.5h2M477 119.5h1M649 119.5h4M659 119.5h6M367 120.5h2M477 120.5h1M646 120.5h3M665 120.5h4M366 121.5h1M477 121.5h1M643 121.5h3M669 121.5h1M365 122.5h1M477 122.5h1M640 122.5h3M670 122.5h1M363 123.5h2M477 123.5h1M638 123.5h2M671 123.5h1M362 124.5h1M478 124.5h1M637 124.5h1M672 124.5h1M361 125.5h1M478 125.5h1M636 125.5h1M673 125.5h1M360 126.5h1M478 126.5h1M635 126.5h1M674 126.5h1M360 127.5h1M478 127.5h1M634 127.5h1M675 127.5h1M359 128.5h1M479 128.5h1M633 128.5h1M676 128.5h2M358 129.5h1M479 129.5h1M632 129.5h1M678 129.5h1M357 130.5h1M479 130.5h1M631 130.5h1M679 130.5h1M357 131.5h1M479 131.5h1M630 131.5h1M680 131.5h1M355 132.5h2M479 132.5h1M630 132.5h1M681 132.5h1M352 133.5h3M480 133.5h1M629 133.5h1M681 133.5h1M350 134.5h2M480 134.5h1M629 134.5h1M682 134.5h1M347 135.5h3M480 135.5h1M628 135.5h1M682 135.5h1M343 136.5h4M480 136.5h1M628 136.5h1M683 136.5h1M907 136.5h15M340 137.5h3M480 137.5h1M627 137.5h1M683 137.5h1M906 137.5h1M922 137.5h4M338 138.5h2M481 138.5h1M627 138.5h1M684 138.5h1M905 138.5h1M926 138.5h5M335 139.5h3M481 139.5h1M626 139.5h1M684 139.5h1M904 139.5h1M931 139.5h2M333 140.5h2M481 140.5h1M626 140.5h1M685 140.5h1M902 140.5h2M933 140.5h2M323 141.5h10M481 141.5h1M625 141.5h1M685 141.5h1M900 141.5h2M935 141.5h1M321 142.5h2M482 142.5h1M625 142.5h1M686 142.5h1M898 142.5h2M936 142.5h2M320 143.5h1M482 143.5h1M624 143.5h1M687 143.5h2M896 143.5h2M938 143.5h1M319 144.5h1M482 144.5h1M623 144.5h1M689 144.5h2M894 144.5h2M939 144.5h1M318 145.5h1M482 145.5h1M623 145.5h1M691 145.5h2M891 145.5h3M940 145.5h2M317 146.5h1M482 146.5h1M622 146.5h1M693 146.5h2M888 146.5h3M942 146.5h2M314 147.5h3M483 147.5h1M622 147.5h1M695 147.5h1M887 147.5h1M944 147.5h2M310 148.5h4M483 148.5h1M621 148.5h1M696 148.5h1M885 148.5h2M946 148.5h1M306 149.5h4M483 149.5h1M621 149.5h1M697 149.5h1M884 149.5h1M947 149.5h2M304 150.5h2M483 150.5h1M620 150.5h1M697 150.5h1M883 150.5h1M949 150.5h12M302 151.5h2M483 151.5h1M620 151.5h1M698 151.5h1M882 151.5h1M960 151.5h1M301 152.5h1M484 152.5h1M619 152.5h1M699 152.5h1M881 152.5h1M961 152.5h1M299 153.5h2M484 153.5h1M619 153.5h1M700 153.5h1M880 153.5h1M961 153.5h1M276 154.5h6M297 154.5h2M484 154.5h1M618 154.5h1M700 154.5h1M879 154.5h1M962 154.5h1M275 155.5h1M282 155.5h2M295 155.5h2M484 155.5h1M618 155.5h1M701 155.5h1M878 155.5h1M962 155.5h1M274 156.5h1M284 156.5h11M485 156.5h1M617 156.5h1M702 156.5h1M877 156.5h1M963 156.5h1M273 157.5h1M485 157.5h1M617 157.5h1M703 157.5h1M875 157.5h2M963 157.5h1M271 158.5h2M485 158.5h1M616 158.5h1M704 158.5h1M874 158.5h1M964 158.5h1M268 159.5h3M486 159.5h1M616 159.5h1M705 159.5h1M872 159.5h2M964 159.5h1M265 160.5h3M486 160.5h1M615 160.5h1M706 160.5h1M871 160.5h1M965 160.5h1M262 161.5h3M486 161.5h1M615 161.5h1M707 161.5h1M870 161.5h1M965 161.5h1M259 162.5h3M487 162.5h1M614 162.5h1M708 162.5h4M783 162.5h4M869 162.5h1M966 162.5h1M257 163.5h2M487 163.5h1M614 163.5h1M712 163.5h4M781 163.5h2M787 163.5h4M867 163.5h2M966 163.5h1M255 164.5h2M487 164.5h1M613 164.5h1M716 164.5h1M780 164.5h1M791 164.5h2M866 164.5h1M967 164.5h1M253 165.5h2M487 165.5h1M613 165.5h1M716 165.5h1M778 165.5h2M793 165.5h2M865 165.5h1M967 165.5h1M251 166.5h2M488 166.5h1M612 166.5h1M717 166.5h1M777 166.5h1M795 166.5h2M864 166.5h1M968 166.5h1M250 167.5h1M488 167.5h1M612 167.5h1M718 167.5h1M776 167.5h1M797 167.5h2M862 167.5h2M968 167.5h1M248 168.5h2M488 168.5h1M611 168.5h1M719 168.5h1M775 168.5h1M799 168.5h4M861 168.5h1M969 168.5h1M247 169.5h1M489 169.5h1M611 169.5h1M719 169.5h1M774 169.5h1M803 169.5h3M860 169.5h1M969 169.5h1M246 170.5h1M489 170.5h1M610 170.5h1M720 170.5h1M773 170.5h1M806 170.5h3M858 170.5h2M970 170.5h1M244 171.5h2M489 171.5h1M609 171.5h1M721 171.5h1M772 171.5h1M809 171.5h2M857 171.5h1M970 171.5h1M243 172.5h1M490 172.5h1M609 172.5h1M722 172.5h1M762 172.5h10M811 172.5h2M855 172.5h2M970 172.5h1M242 173.5h1M490 173.5h1M608 173.5h1M723 173.5h1M760 173.5h2M813 173.5h1M853 173.5h2M971 173.5h1M241 174.5h1M490 174.5h1M607 174.5h1M723 174.5h1M758 174.5h2M814 174.5h2M851 174.5h2M971 174.5h1M241 175.5h1M491 175.5h1M607 175.5h1M724 175.5h1M756 175.5h2M816 175.5h1M850 175.5h1M972 175.5h1M240 176.5h1M491 176.5h1M606 176.5h1M725 176.5h1M755 176.5h1M817 176.5h2M848 176.5h2M972 176.5h1M239 177.5h1M491 177.5h1M606 177.5h1M726 177.5h3M754 177.5h1M819 177.5h2M847 177.5h1M972 177.5h1M238 178.5h1M492 178.5h1M605 178.5h1M729 178.5h4M752 178.5h2M821 178.5h2M846 178.5h1M973 178.5h1M238 179.5h1M492 179.5h1M604 179.5h1M733 179.5h2M740 179.5h12M823 179.5h2M844 179.5h2M973 179.5h1M237 180.5h1M492 180.5h1M604 180.5h1M735 180.5h5M825 180.5h2M842 180.5h2M973 180.5h1M236 181.5h1M493 181.5h1M603 181.5h1M827 181.5h2M838 181.5h4M974 181.5h1M235 182.5h1M493 182.5h1M602 182.5h1M829 182.5h9M974 182.5h1M235 183.5h1M493 183.5h1M601 183.5h1M975 183.5h1M234 184.5h1M493 184.5h1M599 184.5h2M975 184.5h1M233 185.5h1M494 185.5h1M598 185.5h1M975 185.5h1M233 186.5h1M494 186.5h1M597 186.5h1M976 186.5h1M232 187.5h1M494 187.5h1M596 187.5h1M976 187.5h1M231 188.5h1M495 188.5h1M595 188.5h1M977 188.5h1M230 189.5h1M495 189.5h1M594 189.5h1M977 189.5h1M230 190.5h1M495 190.5h1M593 190.5h1M978 190.5h1M229 191.5h1M496 191.5h1M592 191.5h1M978 191.5h1M103 192.5h5M228 192.5h1M496 192.5h1M591 192.5h1M978 192.5h1M101 193.5h2M108 193.5h1M227 193.5h1M497 193.5h1M590 193.5h1M979 193.5h1M100 194.5h1M109 194.5h1M227 194.5h1M497 194.5h1M589 194.5h1M979 194.5h1M99 195.5h1M109 195.5h1M226 195.5h1M497 195.5h1M588 195.5h1M980 195.5h1M97 196.5h2M110 196.5h1M226 196.5h1M498 196.5h1M587 196.5h1M980 196.5h1M96 197.5h1M110 197.5h1M225 197.5h1M498 197.5h1M586 197.5h1M980 197.5h1M86 198.5h10M111 198.5h1M225 198.5h1M499 198.5h1M585 198.5h1M981 198.5h1M85 199.5h1M111 199.5h1M224 199.5h1M499 199.5h1M584 199.5h1M981 199.5h1M85 200.5h1M112 200.5h1M224 200.5h1M499 200.5h1M583 200.5h1M981 200.5h1M84 201.5h1M112 201.5h1M223 201.5h1M500 201.5h1M582 201.5h1M981 201.5h1M83 202.5h1M112 202.5h1M222 202.5h1M500 202.5h1M581 202.5h1M982 202.5h1M82 203.5h1M113 203.5h1M221 203.5h1M500 203.5h1M580 203.5h1M982 203.5h1M81 204.5h1M113 204.5h1M221 204.5h1M500 204.5h1M575 204.5h5M982 204.5h1M81 205.5h1M114 205.5h1M220 205.5h1M501 205.5h1M571 205.5h4M982 205.5h1M80 206.5h1M114 206.5h1M219 206.5h1M501 206.5h1M569 206.5h2M983 206.5h1M79 207.5h1M114 207.5h1M217 207.5h2M501 207.5h1M568 207.5h1M983 207.5h1M78 208.5h1M115 208.5h1M214 208.5h3M501 208.5h1M567 208.5h1M983 208.5h1M76 209.5h2M115 209.5h1M212 209.5h2M502 209.5h1M565 209.5h2M984 209.5h1M75 210.5h1M116 210.5h1M209 210.5h3M502 210.5h1M554 210.5h11M984 210.5h1M74 211.5h1M116 211.5h1M207 211.5h2M502 211.5h1M550 211.5h4M984 211.5h1M73 212.5h1M116 212.5h1M205 212.5h2M502 212.5h1M549 212.5h1M984 212.5h1M72 213.5h1M117 213.5h1M201 213.5h4M503 213.5h1M547 213.5h2M985 213.5h1M71 214.5h1M117 214.5h1M187 214.5h14M503 214.5h1M546 214.5h1M985 214.5h1M71 215.5h1M118 215.5h1M181 215.5h6M503 215.5h1M545 215.5h1M985 215.5h1M70 216.5h1M118 216.5h1M179 216.5h2M504 216.5h1M544 216.5h1M985 216.5h1M69 217.5h1M119 217.5h2M177 217.5h2M504 217.5h1M544 217.5h1M986 217.5h1M67 218.5h2M121 218.5h1M176 218.5h1M505 218.5h1M543 218.5h1M986 218.5h1M65 219.5h2M122 219.5h1M175 219.5h1M505 219.5h1M543 219.5h1M986 219.5h1M63 220.5h2M123 220.5h2M175 220.5h1M506 220.5h1M542 220.5h1M986 220.5h1M62 221.5h1M125 221.5h1M174 221.5h1M506 221.5h1M542 221.5h1M986 221.5h1M61 222.5h1M126 222.5h2M173 222.5h1M507 222.5h1M541 222.5h1M987 222.5h1M61 223.5h1M128 223.5h2M172 223.5h1M507 223.5h1M541 223.5h1M987 223.5h1M60 224.5h1M130 224.5h2M172 224.5h1M508 224.5h1M540 224.5h1M987 224.5h1M59 225.5h1M132 225.5h3M171 225.5h1M508 225.5h1M540 225.5h1M987 225.5h1M58 226.5h1M135 226.5h3M171 226.5h1M509 226.5h1M539 226.5h1M987 226.5h1M58 227.5h1M138 227.5h2M170 227.5h1M509 227.5h1M539 227.5h1M987 227.5h1M57 228.5h1M140 228.5h2M169 228.5h1M510 228.5h1M538 228.5h1M988 228.5h1M56 229.5h1M142 229.5h3M169 229.5h1M510 229.5h1M538 229.5h1M988 229.5h1M55 230.5h1M145 230.5h2M168 230.5h1M511 230.5h1M537 230.5h1M988 230.5h1M55 231.5h1M147 231.5h2M167 231.5h1M511 231.5h1M537 231.5h1M988 231.5h1M54 232.5h1M149 232.5h2M167 232.5h1M512 232.5h1M536 232.5h1M988 232.5h1M53 233.5h1M151 233.5h1M166 233.5h1M512 233.5h1M536 233.5h1M989 233.5h1M52 234.5h1M152 234.5h2M165 234.5h1M513 234.5h1M535 234.5h1M989 234.5h1M51 235.5h1M154 235.5h1M165 235.5h1M513 235.5h1M534 235.5h1M989 235.5h1M50 236.5h1M155 236.5h2M163 236.5h2M514 236.5h4M532 236.5h2M989 236.5h1M50 237.5h1M157 237.5h2M161 237.5h2M518 237.5h8M531 237.5h1M990 237.5h1M49 238.5h1M159 238.5h2M526 238.5h5M990 238.5h1M48 239.5h1M990 239.5h1M47 240.5h1M990 240.5h1M46 241.5h1M991 241.5h1M45 242.5h1M991 242.5h1M44 243.5h1M991 243.5h1M43 244.5h1M991 244.5h1M43 245.5h1M992 245.5h1M42 246.5h1M992 246.5h1M41 247.5h1M992 247.5h1M40 248.5h1M992 248.5h1M39 249.5h1M993 249.5h1M38 250.5h1M993 250.5h1M38 251.5h1M993 251.5h1M37 252.5h1M993 252.5h1M37 253.5h1M994 253.5h1M36 254.5h1M994 254.5h1M35 255.5h1M994 255.5h1M35 256.5h1M994 256.5h1M34 257.5h1M995 257.5h1M33 258.5h1M995 258.5h1M33 259.5h1M995 259.5h1M32 260.5h1M995 260.5h1M31 261.5h1M996 261.5h1M29 262.5h2M996 262.5h1M28 263.5h1M996 263.5h1M26 264.5h2M996 264.5h1M24 265.5h2M997 265.5h1M22 266.5h2M997 266.5h1M20 267.5h2M997 267.5h1M18 268.5h2M997 268.5h1M17 269.5h1M998 269.5h1M16 270.5h1M998 270.5h1M14 271.5h2M998 271.5h1M12 272.5h2M998 272.5h1M10 273.5h2M999 273.5h1M8 274.5h2M999 274.5h1M7 275.5h1M999 275.5h1M6 276.5h1M999 276.5h1M5 277.5h1M1000 277.5h1M4 278.5h1M1000 278.5h1M3 279.5h1M1000 279.5h1M1000 280.5h1M1000 281.5h1M1001 282.5h1M1001 283.5h1M1001 284.5h1M1001 285.5h1M1001 286.5h1M1002 287.5h1M1002 288.5h1M1002 289.5h1M1002 290.5h1M1002 291.5h1M1003 292.5h1M1003 293.5h1M1003 294.5h1M1003 295.5h1M1003 296.5h1M1003 297.5h1M1004 298.5h1M1004 299.5h1M1004 300.5h1M1004 301.5h1M1004 302.5h1M1005 303.5h1M1005 304.5h1M1005 305.5h1M1005 306.5h1M1005 307.5h1M1006 308.5h1M1006 309.5h1M1006 310.5h1M1006 311.5h1M1007 312.5h1M1007 313.5h1M1007 314.5h1M1007 315.5h1M1008 316.5h1M1008 317.5h1M1008 318.5h1M1008 319.5h1M1009 320.5h1M1009 321.5h1M1009 322.5h1M1010 323.5h1M1010 324.5h1M1011 325.5h1M1011 326.5h1M1011 327.5h1M1011 328.5h1M1012 329.5h1M1012 330.5h1M1012 331.5h1M1012 332.5h1M1013 333.5h1M1013 334.5h1M1013 335.5h1M1013 336.5h1M1013 337.5h1M1014 338.5h1M1014 339.5h1M1014 340.5h1M1014 341.5h1M1015 342.5h1M1015 343.5h1M1015 344.5h1M1015 345.5h1M1016 346.5h1M1016 347.5h1M1016 348.5h1M1016 349.5h1M1017 350.5h1M1017 351.5h1M1017 352.5h1M1018 353.5h1M1018 354.5h1M1019 355.5h1M1019 356.5h1M1020 357.5h1M1020 358.5h1M1021 359.5h1M1021 360.5h1M1022 361.5h1M1022 362.5h1M1023 363.5h1M1023 364.5h1M1024 365.5h1M1025 366.5h1M1026 367.5h1M1026 368.5h1M1027 369.5h1M1028 370.5h1M1029 371.5h2M1031 372.5h5" stroke="#ff0000" stroke-width="1" fill="none" shape-rendering="crispEdges"/></g>
<rect x="723" y="230" width="379" height="2" fill="#ff0000" />
<rect x="909" y="304" width="295" height="2" fill="#00ff00" />
<rect x="1015" y="377" width="121" height="2" fill="#0000ff" />
<rect x="998" y="453" width="177" height="2" fill="#0000ff" />
<g clip-path="url(#c1)" shape-rendering="crispEdges">
<rect x="3" y="245" width="1" height="37" fill="#ff0000" />
<rect x="2" y="252" width="3" height="27" fill="#ff0000" />
<rect x="3" y="253" width="1" height="25" fill="#ff5000" />
<rect x="7" y="238" width="1" height="25" fill="#32cd32" />
<rect x="6" y="251" width="3" height="3" fill="#32cd32" />
<rect x="11" y="234" width="1" height="45" fill="#32cd32" />
<rect x="10" y="253" width="3" height="22" fill="#32cd32" />
<rect x="15" y="245" width="1" height="45" fill="#ff0000" />
<rect x="14" y="251" width="3" height="23" fill="#ff0000" />
<rect x="15" y="252" width="1" height="21" fill="#ff5000" />
<rect x="19" y="248" width="1" height="20" fill="#32cd32" />
<rect x="18" y="252" width="3" height="13" fill="#32cd32" />
<rect x="23" y="265" width="1" height="1" fill="#000000" />
<rect x="22" y="265" width="3" height="1" fill="#000000" />
<rect x="27" y="225" width="1" height="47" fill="#32cd32" />
<rect x="26" y="226" width="3" height="26" fill="#32cd32" />
<rect x="31" y="222" width="1" height="34" fill="#ff0000" />
<rect x="30" y="225" width="3" height="27" fill="#ff0000" />
<rect x="31" y="226" width="1" height="25" fill="#ff5000" />
<rect x="35" y="164" width="1" height="63" fill="#ff0000" />
<rect x="34" y="181" width="3" height="44" fill="#ff0000" />
<rect x="35" y="182" width="1" height="42" fill="#ff5000" />
<rect x="39" y="163" width="1" height="52" fill="#ff0000" />
<rect x="38" y="171" width="3" height="10" fill="#ff0000" />
<rect x="39" y="172" width="1" height="8" fill="#ff5000" />
<rect x="43" y="169" width="1" height="41" fill="#32cd32" />
<rect x="42" y="172" width="3" height="36" fill="#32cd32" />
<rect x="47" y="197" width="1" height="19" fill="#ff0000" />
<rect x="46" y="199" width="3" height="9" fill="#ff0000" />
<rect x="47" y="200" width="1" height="7" fill="#ff5000" />
<rect x="51" y="169" width="1" height="52" fill="#32cd32" />
<rect x="50" y="198" width="3" height="19" fill="#32cd32" />
<rect x="55" y="186" width="1" height="53" fill="#ff0000" />
<rect x="54" y="192" width="3" height="25" fill="#ff0000" />
<rect x="55" y="193" width="1" height="23" fill="#ff5000" />
<rect x="59" y="174" width="1" height="28" fill="#ff0000" />
<rect x="58" y="177" width="3" height="16" fill="#ff0000" />
<rect x="59" y="178" width="1" height="14" fill="#ff5000" />
<rect x="63" y="174" width="1" height="42" fill="#32cd32" />
<rect x="62" y="178" width="3" height="24" fill="#32cd32" />
<rect x="67" y="191" width="1" height="29" fill="#32cd32" />
<rect x="66" y="200" width="3" height="20" fill="#32cd32" />
<rect x="71" y="214" width="1" height="19" fill="#32cd32" />
<rect x="70" y="217" width="3" height="11" fill="#32cd32" />
<rect x="75" y="188" width="1" height="46" fill="#ff0000" />
<rect x="74" y="198" width="3" height="29" fill="#ff0000" />
<rect x="75" y="199" width="1" height="27" fill="#ff5000" />
<rect x="79" y="191" width="1" height="29" fill="#32cd32" />
<rect x="78" y="197" width="3" height="9" fill="#32cd32" />
<rect x="83" y="170" width="1" height="39" fill="#ff0000" />
<rect x="82" y="172" width="3" height="32" fill="#ff0000" />
<rect x="83" y="173" width="1" height="30" fill="#ff5000" />
<rect x="87" y="168" width="1" height="27" fill="#32cd32" />
<rect x="86" y="172" width="3" height="22" fill="#32cd32" />
<rect x="91" y="174" width="1" height="22" fill="#ff0000" />
<rect x="90" y="180" width="3" height="13" fill="#ff0000" />
<rect x="91" y="181" width="1" height="11" fill="#ff5000" />
<rect x="95" y="171" width="1" height="32" fill="#32cd32" />
<rect x="94" y="180" width="3" height="1" fill="#32cd32" />
<rect x="99" y="148" width="1" height="37" fill="#ff0000" />
<rect x="98" y="158" width="3" height="23" fill="#ff0000" />
<rect x="99" y="159" width="1" height="21" fill="#ff5000" />
<rect x="103" y="149" width="1" height="57" fill="#32cd32" />
<rect x="102" y="158" width="3" height="17" fill="#32cd32" />
<rect x="107" y="160" width="1" height="76" fill="#32cd32" />
<rect x="106" y="174" width="3" height="57" fill="#32cd32" />
<rect x="111" y="210" width="1" height="72" fill="#32cd32" />
<rect x="110" y="230" width="3" height="44" fill="#32cd32" />
<rect x="115" y="273" width="1" height="72" fill="#32cd32" />
<rect x="114" y="273" width="3" height="60" fill="#32cd32" />
<rect x="119" y="303" width="1" height="39" fill="#ff0000" />
<rect x="118" y="309" width="3" height="24" fill="#ff0000" />
<rect x="119" y="310" width="1" height="22" fill="#ff5000" />
<rect x="123" y="244" width="1" height="70" fill="#ff0000" />
<rect x="122" y="261" width="3" height="47" fill="#ff0000" />
<rect x="123" y="262" width="1" height="45" fill="#ff5000" />
<rect x="127" y="227" width="1" height="80" fill="#ff0000" />
<rect x="126" y="241" width="3" height="20" fill="#ff0000" />
<rect x="127" y="242" width="1" height="18" fill="#ff5000" />
<rect x="131" y="208" width="1" height="47" fill="#32cd32" />
<rect x="130" y="241" width="3" height="3" fill="#32cd32" />
<rect x="135" y="202" width="1" height="47" fill="#ff0000" />
<rect x="134" y="202" width="3" height="43" fill="#ff0000" />
<rect x="135" y="203" width="1" height="41" fill="#ff5000" />
<rect x="139" y="193" width="1" height="19" fill="#ff0000" />
<rect x="138" y="201" width="3" height="3" fill="#ff0000" />
<rect x="139" y="202" width="1" height="1" fill="#ff5000" />
<rect x="143" y="194" width="1" height="35" fill="#32cd32" />
<rect x="142" y="199" width="3" height="18" fill="#32cd32" />
<rect x="147" y="186" width="1" height="36" fill="#ff0000" />
<rect x="146" y="195" width="3" height="22" fill="#ff0000" />
<rect x="147" y="196" width="1" height="20" fill="#ff5000" />
<rect x="151" y="180" width="1" height="43" fill="#32cd32" />
<rect x="150" y="195" width="3" height="19" fill="#32cd32" />
<rect x="155" y="208" width="1" height="22" fill="#ff0000" />
<rect x="154" y="213" width="3" height="2" fill="#ff0000" />
<rect x="159" y="191" width="1" height="25" fill="#ff0000" />
<rect x="158" y="193" width="3" height="21" fill="#ff0000" />
<rect x="159" y="194" width="1" height="19" fill="#ff5000" />
<rect x="163" y="189" width="1" height="19" fill="#32cd32" />
<rect x="162" y="191" width="3" height="14" fill="#32cd32" />
<rect x="167" y="197" width="1" height="29" fill="#ff0000" />
<rect x="166" y="203" width="3" height="2" fill="#ff0000" />
<rect x="171" y="196" width="1" height="27" fill="#32cd32" />
<rect x="170" y="202" width="3" height="20" fill="#32cd32" />
<rect x="175" y="211" width="1" height="35" fill="#32cd32" />
<rect x="174" y="222" width="3" height="21" fill="#32cd32" />
<rect x="179" y="229" width="1" height="19" fill="#ff0000" />
<rect x="178" y="231" width="3" height="12" fill="#ff0000" />
<rect x="179" y="232" width="1" height="10" fill="#ff5000" />
<rect x="183" y="218" width="1" height="21" fill="#ff0000" />
<rect x="182" y="224" width="3" height="10" fill="#ff0000" />
<rect x="183" y="225" width="1" height="8" fill="#ff5000" />
<rect x="187" y="221" width="1" height="14" fill="#32cd32" />
<rect x="186" y="224" width="3" height="9" fill="#32cd32" />
<rect x="191" y="202" width="1" height="42" fill="#ff0000" />
<rect x="190" y="213" width="3" height="20" fill="#ff0000" />
<rect x="191" y="214" width="1" height="18" fill="#ff5000" />
<rect x="195" y="200" width="1" height="28" fill="#ff0000" />
<rect x="194" y="206" width="3" height="6" fill="#ff0000" />
<rect x="195" y="207" width="1" height="4" fill="#ff5000" />
<rect x="199" y="191" width="1" height="32" fill="#ff0000" />
<rect x="198" y="193" width="3" height="13" fill="#ff0000" />
<rect x="199" y="194" width="1" height="11" fill="#ff5000" />
<rect x="203" y="189" width="1" height="23" fill="#32cd32" />
<rect x="202" y="193" width="3" height="7" fill="#32cd32" />
<rect x="207" y="183" width="1" height="21" fill="#ff0000" />
<rect x="206" y="183" width="3" height="17" fill="#ff0000" />
<rect x="207" y="184" width="1" height="15" fill="#ff5000" />
<rect x="211" y="176" width="1" height="19" fill="#32cd32" />
<rect x="210" y="185" width="3" height="3" fill="#32cd32" />
<rect x="215" y="155" width="1" height="35" fill="#ff0000" />
<rect x="214" y="171" width="3" height="17" fill="#ff0000" />
<rect x="215" y="172" width="1" height="15" fill="#ff5000" />
<rect x="219" y="150" width="1" height="23" fill="#ff0000" />
<rect x="218" y="165" width="3" height="7" fill="#ff0000" />
<rect x="219" y="166" width="1" height="5" fill="#ff5000" />
<rect x="223" y="141" width="1" height="27" fill="#ff0000" />
<rect x="222" y="145" width="3" height="22" fill="#ff0000" />
<rect x="223" y="146" width="1" height="20" fill="#ff5000" />
<rect x="227" y="129" width="1" height="19" fill="#ff0000" />
<rect x="226" y="132" width="3" height="13" fill="#ff0000" />
<rect x="227" y="133" width="1" height="11" fill="#ff5000" />
<rect x="231" y="128" width="1" height="22" fill="#32cd32" />
<rect x="230" y="132" width="3" height="9" fill="#32cd32" />
<rect x="235" y="137" width="1" height="30" fill="#ff0000" />
<rect x="234" y="137" width="3" height="3" fill="#ff0000" />
<rect x="235" y="138" width="1" height="1" fill="#ff5000" />
<rect x="239" y="139" width="1" height="40" fill="#32cd32" />
<rect x="238" y="139" width="3" height="22" fill="#32cd32" />
<rect x="243" y="150" width="1" height="35" fill="#32cd32" />
<rect x="242" y="161" width="3" height="1" fill="#32cd32" />
<rect x="247" y="157" width="1" height="35" fill="#32cd32" />
<rect x="246" y="161" width="3" height="31" fill="#32cd32" />
<rect x="251" y="161" width="1" height="35" fill="#ff0000" />
<rect x="250" y="176" width="3" height="16" fill="#ff0000" />
<rect x="251" y="177" width="1" height="14" fill="#ff5000" />
<rect x="255" y="154" width="1" height="25" fill="#ff0000" />
<rect x="254" y="157" width="3" height="21" fill="#ff0000" />
<rect x="255" y="158" width="1" height="19" fill="#ff5000" />
<rect x="259" y="157" width="1" height="1" fill="#000000" />
<rect x="258" y="157" width="3" height="1" fill="#000000" />
<rect x="263" y="146" width="1" height="34" fill="#32cd32" />
<rect x="262" y="166" width="3" height="10" fill="#32cd32" />
<rect x="267" y="156" width="1" height="28" fill="#ff0000" />
<rect x="266" y="158" width="3" height="18" fill="#ff0000" />
<rect x="267" y="159" width="1" height="16" fill="#ff5000" />
<rect x="271" y="134" width="1" height="27" fill="#ff0000" />
<rect x="270" y="141" width="3" height="18" fill="#ff0000" />
<rect x="271" y="142" width="1" height="16" fill="#ff5000" />
<rect x="275" y="128" width="1" height="15" fill="#ff0000" />
<rect x="274" y="134" width="3" height="8" fill="#ff0000" />
<rect x="275" y="135" width="1" height="6" fill="#ff5000" />
<rect x="279" y="126" width="1" height="21" fill="#32cd32" />
<rect x="278" y="134" width="3" height="11" fill="#32cd32" />
<rect x="283" y="140" width="1" height="28" fill="#32cd32" />
<rect x="282" y="144" width="3" height="4" fill="#32cd32" />
<rect x="287" y="136" width="1" height="18" fill="#ff0000" />
<rect x="286" y="142" width="3" height="5" fill="#ff0000" />
<rect x="287" y="143" width="1" height="3" fill="#ff5000" />
<rect x="291" y="131" width="1" height="19" fill="#32cd32" />
<rect x="290" y="142" width="3" height="2" fill="#32cd32" />
<rect x="295" y="132" width="1" height="17" fill="#ff0000" />
<rect x="294" y="140" width="3" height="5" fill="#ff0000" />
<rect x="295" y="141" width="1" height="3" fill="#ff5000" />
<rect x="299" y="132" width="1" height="16" fill="#32cd32" />
<rect x="298" y="139" width="3" height="2" fill="#32cd32" />
<rect x="303" y="133" width="1" height="23" fill="#32cd32" />
<rect x="302" y="140" width="3" height="12" fill="#32cd32" />
<rect x="307" y="151" width="1" height="11" fill="#32cd32" />
<rect x="306" y="151" width="3" height="1" fill="#32cd32" />
<rect x="311" y="138" width="1" height="20" fill="#ff0000" />
<rect x="310" y="150" width="3" height="3" fill="#ff0000" />
<rect x="311" y="151" width="1" height="1" fill="#ff5000" />
<rect x="315" y="139" width="1" height="20" fill="#ff0000" />
<rect x="314" y="142" width="3" height="9" fill="#ff0000" />
<rect x="315" y="143" width="1" height="7" fill="#ff5000" />
<rect x="319" y="126" width="1" height="17" fill="#ff0000" />
<rect x="318" y="132" width="3" height="11" fill="#ff0000" />
<rect x="319" y="133" width="1" height="9" fill="#ff5000" />
<rect x="323" y="116" width="1" height="26" fill="#ff0000" />
<rect x="322" y="119" width="3" height="12" fill="#ff0000" />
<rect x="323" y="120" width="1" height="10" fill="#ff5000" />
<rect x="327" y="117" width="1" height="18" fill="#32cd32" />
<rect x="326" y="118" width="3" height="16" fill="#32cd32" />
<rect x="331" y="132" width="1" height="19" fill="#32cd32" />
<rect x="330" y="133" width="3" height="3" fill="#32cd32" />
<rect x="335" y="126" width="1" height="12" fill="#ff0000" />
<rect x="334" y="132" width="3" height="5" fill="#ff0000" />
<rect x="335" y="133" width="1" height="3" fill="#ff5000" />
<rect x="339" y="108" width="1" height="27" fill="#ff0000" />
<rect x="338" y="111" width="3" height="22" fill="#ff0000" />
<rect x="339" y="112" width="1" height="20" fill="#ff5000" />
<rect x="343" y="86" width="1" height="50" fill="#32cd32" />
<rect x="342" y="111" width="3" height="21" fill="#32cd32" />
<rect x="347" y="112" width="1" height="24" fill="#ff0000" />
<rect x="346" y="116" width="3" height="17" fill="#ff0000" />
<rect x="347" y="117" width="1" height="15" fill="#ff5000" />
<rect x="351" y="111" width="1" height="10" fill="#ff0000" />
<rect x="350" y="116" width="3" height="2" fill="#ff0000" />
<rect x="355" y="108" width="1" height="15" fill="#32cd32" />
<rect x="354" y="113" width="3" height="10" fill="#32cd32" />
<rect x="359" y="65" width="1" height="59" fill="#ff0000" />
<rect x="358" y="77" width="3" height="44" fill="#ff0000" />
<rect x="359" y="78" width="1" height="42" fill="#ff5000" />
<rect x="363" y="59" width="1" height="57" fill="#32cd32" />
<rect x="362" y="78" width="3" height="29" fill="#32cd32" />
<rect x="367" y="91" width="1" height="24" fill="#ff0000" />
<rect x="366" y="93" width="3" height="14" fill="#ff0000" />
<rect x="367" y="94" width="1" height="12" fill="#ff5000" />
<rect x="371" y="87" width="1" height="36" fill="#32cd32" />
<rect x="370" y="93" width="3" height="28" fill="#32cd32" />
<rect x="375" y="104" width="1" height="27" fill="#32cd32" />
<rect x="374" y="120" width="3" height="3" fill="#32cd32" />
<rect x="379" y="94" width="1" height="31" fill="#ff0000" />
<rect x="378" y="96" width="3" height="24" fill="#ff0000" />
<rect x="379" y="97" width="1" height="22" fill="#ff5000" />
<rect x="383" y="86" width="1" height="22" fill="#32cd32" />
<rect x="382" y="98" width="3" height="9" fill="#32cd32" />
<rect x="387" y="83" width="1" height="34" fill="#ff0000" />
<rect x="386" y="101" width="3" height="6" fill="#ff0000" />
<rect x="387" y="102" width="1" height="4" fill="#ff5000" />
<rect x="391" y="81" width="1" height="22" fill="#ff0000" />
<rect x="390" y="91" width="3" height="11" fill="#ff0000" />
<rect x="391" y="92" width="1" height="9" fill="#ff5000" />
<rect x="395" y="63" width="1" height="30" fill="#ff0000" />
<rect x="394" y="75" width="3" height="17" fill="#ff0000" />
<rect x="395" y="76" width="1" height="15" fill="#ff5000" />
<rect x="399" y="60" width="1" height="26" fill="#ff0000" />
<rect x="398" y="68" width="3" height="8" fill="#ff0000" />
<rect x="399" y="69" width="1" height="6" fill="#ff5000" />
<rect x="403" y="58" width="1" height="36" fill="#32cd32" />
<rect x="402" y="66" width="3" height="3" fill="#32cd32" />
<rect x="407" y="63" width="1" height="23" fill="#32cd32" />
<rect x="406" y="68" width="3" height="7" fill="#32cd32" />
<rect x="411" y="65" width="1" height="20" fill="#ff0000" />
<rect x="410" y="70" width="3" height="5" fill="#ff0000" />
<rect x="411" y="71" width="1" height="3" fill="#ff5000" />
<rect x="415" y="65" width="1" height="18" fill="#32cd32" />
<rect x="414" y="70" width="3" height="12" fill="#32cd32" />
<rect x="419" y="62" width="1" height="21" fill="#ff0000" />
<rect x="418" y="68" width="3" height="13" fill="#ff0000" />
<rect x="419" y="69" width="1" height="11" fill="#ff5000" />
<rect x="423" y="63" width="1" height="18" fill="#ff0000" />
<rect x="422" y="66" width="3" height="3" fill="#ff0000" />
<rect x="423" y="67" width="1" height="1" fill="#ff5000" />
<rect x="427" y="54" width="1" height="27" fill="#ff0000" />
<rect x="426" y="64" width="3" height="3" fill="#ff0000" />
<rect x="427" y="65" width="1" height="1" fill="#ff5000" />
<rect x="431" y="54" width="1" height="15" fill="#ff0000" />
<rect x="430" y="54" width="3" height="11" fill="#ff0000" />
<rect x="431" y="55" width="1" height="9" fill="#ff5000" />
<rect x="435" y="52" width="1" height="16" fill="#32cd32" />
<rect x="434" y="54" width="3" height="12" fill="#32cd32" />
<rect x="439" y="53" width="1" height="17" fill="#32cd32" />
<rect x="438" y="65" width="3" height="5" fill="#32cd32" />
<rect x="443" y="53" width="1" height="17" fill="#ff0000" />
<rect x="442" y="59" width="3" height="10" fill="#ff0000" />
<rect x="443" y="60" width="1" height="8" fill="#ff5000" />
<rect x="447" y="51" width="1" height="19" fill="#ff0000" />
<rect x="446" y="53" width="3" height="7" fill="#ff0000" />
<rect x="447" y="54" width="1" height="5" fill="#ff5000" />
<rect x="451" y="50" width="1" height="36" fill="#32cd32" />
<rect x="450" y="52" width="3" height="31" fill="#32cd32" />
<rect x="455" y="71" width="1" height="60" fill="#32cd32" />
<rect x="454" y="82" width="3" height="41" fill="#32cd32" />
<rect x="459" y="116" width="1" height="37" fill="#32cd32" />
<rect x="458" y="121" width="3" height="30" fill="#32cd32" />
<rect x="463" y="142" width="1" height="73" fill="#32cd32" />
<rect x="462" y="150" width="3" height="42" fill="#32cd32" />
<rect x="467" y="186" width="1" height="48" fill="#32cd32" />
<rect x="466" y="192" width="3" height="35" fill="#32cd32" />
<rect x="471" y="192" width="1" height="36" fill="#ff0000" />
<rect x="470" y="200" width="3" height="27" fill="#ff0000" />
<rect x="471" y="201" width="1" height="25" fill="#ff5000" />
<rect x="475" y="182" width="1" height="59" fill="#ff0000" />
<rect x="474" y="188" width="3" height="14" fill="#ff0000" />
<rect x="475" y="189" width="1" height="12" fill="#ff5000" />
<rect x="479" y="188" width="1" height="120" fill="#32cd32" />
<rect x="478" y="188" width="3" height="106" fill="#32cd32" />
<rect x="483" y="288" width="1" height="99" fill="#32cd32" />
<rect x="482" y="294" width="3" height="68" fill="#32cd32" />
<rect x="487" y="265" width="1" height="106" fill="#ff0000" />
<rect x="486" y="266" width="3" height="97" fill="#ff0000" />
<rect x="487" y="267" width="1" height="95" fill="#ff5000" />
<rect x="491" y="243" width="1" height="50" fill="#32cd32" />
<rect x="490" y="267" width="3" height="14" fill="#32cd32" />
<rect x="495" y="230" width="1" height="53" fill="#ff0000" />
<rect x="494" y="233" width="3" height="28" fill="#ff0000" />
<rect x="495" y="234" width="1" height="26" fill="#ff5000" />
<rect x="499" y="198" width="1" height="48" fill="#ff0000" />
<rect x="498" y="200" width="3" height="34" fill="#ff0000" />
<rect x="499" y="201" width="1" height="32" fill="#ff5000" />
<rect x="503" y="187" width="1" height="28" fill="#32cd32" />
<rect x="502" y="201" width="3" height="3" fill="#32cd32" />
<rect x="507" y="188" width="1" height="32" fill="#32cd32" />
<rect x="506" y="203" width="3" height="9" fill="#32cd32" />
<rect x="511" y="199" width="1" height="35" fill="#32cd32" />
<rect x="510" y="211" width="3" height="22" fill="#32cd32" />
<rect x="515" y="219" width="1" height="15" fill="#ff0000" />
<rect x="514" y="221" width="3" height="12" fill="#ff0000" />
<rect x="515" y="222" width="1" height="10" fill="#ff5000" />
<rect x="519" y="199" width="1" height="37" fill="#ff0000" />
<rect x="518" y="204" width="3" height="17" fill="#ff0000" />
<rect x="519" y="205" width="1" height="15" fill="#ff5000" />
<rect x="523" y="200" width="1" height="26" fill="#32cd32" />
<rect x="522" y="204" width="3" height="4" fill="#32cd32" />
<rect x="527" y="205" width="1" height="19" fill="#32cd32" />
<rect x="526" y="207" width="3" height="7" fill="#32cd32" />
<rect x="531" y="203" width="1" height="23" fill="#ff0000" />
<rect x="530" y="213" width="3" height="1" fill="#ff0000" />
<rect x="535" y="194" width="1" height="23" fill="#ff0000" />
<rect x="534" y="206" width="3" height="9" fill="#ff0000" />
<rect x="535" y="207" width="1" height="7" fill="#ff5000" />
<rect x="539" y="199" width="1" height="18" fill="#32cd32" />
<rect x="538" y="206" width="3" height="8" fill="#32cd32" />
<rect x="543" y="157" width="1" height="61" fill="#ff0000" />
<rect x="542" y="199" width="3" height="17" fill="#ff0000" />
<rect x="543" y="200" width="1" height="15" fill="#ff5000" />
<rect x="547" y="175" width="1" height="38" fill="#ff0000" />
<rect x="546" y="191" width="3" height="9" fill="#ff0000" />
<rect x="547" y="192" width="1" height="7" fill="#ff5000" />
<rect x="551" y="187" width="1" height="53" fill="#32cd32" />
<rect x="550" y="190" width="3" height="35" fill="#32cd32" />
<rect x="555" y="205" width="1" height="27" fill="#ff0000" />
<rect x="554" y="207" width="3" height="18" fill="#ff0000" />
<rect x="555" y="208" width="1" height="16" fill="#ff5000" />
<rect x="559" y="205" width="1" height="21" fill="#32cd32" />
<rect x="558" y="208" width="3" height="11" fill="#32cd32" />
<rect x="563" y="202" width="1" height="27" fill="#ff0000" />
<rect x="562" y="206" width="3" height="12" fill="#ff0000" />
<rect x="563" y="207" width="1" height="10" fill="#ff5000" />
<rect x="567" y="179" width="1" height="29" fill="#ff0000" />
<rect x="566" y="182" width="3" height="24" fill="#ff0000" />
<rect x="567" y="183" width="1" height="22" fill="#ff5000" />
<rect x="571" y="179" width="1" height="25" fill="#32cd32" />
<rect x="570" y="181" width="3" height="21" fill="#32cd32" />
<rect x="575" y="182" width="1" height="21" fill="#ff0000" />
<rect x="574" y="192" width="3" height="10" fill="#ff0000" />
<rect x="575" y="193" width="1" height="8" fill="#ff5000" />
<rect x="579" y="179" width="1" height="19" fill="#ff0000" />
<rect x="578" y="185" width="3" height="9" fill="#ff0000" />
<rect x="579" y="186" width="1" height="7" fill="#ff5000" />
<rect x="583" y="155" width="1" height="33" fill="#ff0000" />
<rect x="582" y="157" width="3" height="30" fill="#ff0000" />
<rect x="583" y="158" width="1" height="28" fill="#ff5000" />
<rect x="587" y="154" width="1" height="18" fill="#32cd32" />
<rect x="586" y="158" width="3" height="5" fill="#32cd32" />
<rect x="591" y="137" width="1" height="30" fill="#ff0000" />
<rect x="590" y="145" width="3" height="18" fill="#ff0000" />
<rect x="591" y="146" width="1" height="16" fill="#ff5000" />
<rect x="595" y="134" width="1" height="17" fill="#32cd32" />
<rect x="594" y="145" width="3" height="1" fill="#32cd32" />
<rect x="599" y="142" width="1" height="12" fill="#32cd32" />
<rect x="598" y="145" width="3" height="8" fill="#32cd32" />
<rect x="603" y="129" width="1" height="24" fill="#ff0000" />
<rect x="602" y="132" width="3" height="21" fill="#ff0000" />
<rect x="603" y="133" width="1" height="19" fill="#ff5000" />
<rect x="607" y="120" width="1" height="22" fill="#32cd32" />
<rect x="606" y="132" width="3" height="7" fill="#32cd32" />
<rect x="611" y="120" width="1" height="29" fill="#ff0000" />
<rect x="610" y="122" width="3" height="13" fill="#ff0000" />
<rect x="611" y="123" width="1" height="11" fill="#ff5000" />
<rect x="615" y="92" width="1" height="33" fill="#ff0000" />
<rect x="614" y="93" width="3" height="30" fill="#ff0000" />
<rect x="615" y="94" width="1" height="28" fill="#ff5000" />
<rect x="619" y="83" width="1" height="29" fill="#32cd32" />
<rect x="618" y="93" width="3" height="6" fill="#32cd32" />
<rect x="623" y="92" width="1" height="23" fill="#ff0000" />
<rect x="622" y="95" width="3" height="3" fill="#ff0000" />
<rect x="623" y="96" width="1" height="1" fill="#ff5000" />
<rect x="627" y="85" width="1" height="13" fill="#ff0000" />
<rect x="626" y="91" width="3" height="5" fill="#ff0000" />
<rect x="627" y="92" width="1" height="3" fill="#ff5000" />
<rect x="631" y="82" width="1" height="22" fill="#ff0000" />
<rect x="630" y="90" width="3" height="1" fill="#ff0000" />
<rect x="635" y="78" width="1" height="67" fill="#32cd32" />
<rect x="634" y="90" width="3" height="48" fill="#32cd32" />
<rect x="639" y="127" width="1" height="20" fill="#ff0000" />
<rect x="638" y="131" width="3" height="8" fill="#ff0000" />
<rect x="639" y="132" width="1" height="6" fill="#ff5000" />
<rect x="643" y="105" width="1" height="31" fill="#ff0000" />
<rect x="642" y="116" width="3" height="16" fill="#ff0000" />
<rect x="643" y="117" width="1" height="14" fill="#ff5000" />
<rect x="647" y="106" width="1" height="29" fill="#32cd32" />
<rect x="646" y="117" width="3" height="18" fill="#32cd32" />
<rect x="651" y="123" width="1" height="21" fill="#32cd32" />
<rect x="650" y="132" width="3" height="3" fill="#32cd32" />
<rect x="655" y="131" width="1" height="18" fill="#32cd32" />
<rect x="654" y="135" width="3" height="11" fill="#32cd32" />
<rect x="659" y="122" width="1" height="39" fill="#ff0000" />
<rect x="658" y="138" width="3" height="8" fill="#ff0000" />
<rect x="659" y="139" width="1" height="6" fill="#ff5000" />
<rect x="663" y="126" width="1" height="15" fill="#ff0000" />
<rect x="662" y="135" width="3" height="3" fill="#ff0000" />
<rect x="663" y="136" width="1" height="1" fill="#ff5000" />
<rect x="667" y="122" width="1" height="15" fill="#ff0000" />
<rect x="666" y="132" width="3" height="3" fill="#ff0000" />
<rect x="667" y="133" width="1" height="1" fill="#ff5000" />
<rect x="671" y="125" width="1" height="24" fill="#32cd32" />
<rect x="670" y="131" width="3" height="12" fill="#32cd32" />
<rect x="675" y="132" width="1" height="19" fill="#32cd32" />
<rect x="674" y="142" width="3" height="8" fill="#32cd32" />
<rect x="679" y="142" width="1" height="15" fill="#ff0000" />
<rect x="678" y="148" width="3" height="3" fill="#ff0000" />
<rect x="679" y="149" width="1" height="1" fill="#ff5000" />
<rect x="683" y="142" width="1" height="35" fill="#32cd32" />
<rect x="682" y="148" width="3" height="26" fill="#32cd32" />
<rect x="687" y="168" width="1" height="28" fill="#32cd32" />
<rect x="686" y="174" width="3" height="9" fill="#32cd32" />
<rect x="691" y="152" width="1" height="42" fill="#ff0000" />
<rect x="690" y="168" width="3" height="14" fill="#ff0000" />
<rect x="691" y="169" width="1" height="12" fill="#ff5000" />
<rect x="695" y="166" width="1" height="17" fill="#32cd32" />
<rect x="694" y="168" width="3" height="11" fill="#32cd32" />
<rect x="699" y="171" width="1" height="50" fill="#32cd32" />
<rect x="698" y="178" width="3" height="39" fill="#32cd32" />
<rect x="703" y="171" width="1" height="45" fill="#ff0000" />
<rect x="702" y="185" width="3" height="31" fill="#ff0000" />
<rect x="703" y="186" width="1" height="29" fill="#ff5000" />
<rect x="707" y="170" width="1" height="34" fill="#ff0000" />
<rect x="706" y="181" width="3" height="7" fill="#ff0000" />
<rect x="707" y="182" width="1" height="5" fill="#ff5000" />
<rect x="711" y="143" width="1" height="41" fill="#ff0000" />
<rect x="710" y="148" width="3" height="33" fill="#ff0000" />
<rect x="711" y="149" width="1" height="31" fill="#ff5000" />
<rect x="715" y="146" width="1" height="19" fill="#32cd32" />
<rect x="714" y="150" width="3" height="2" fill="#32cd32" />
<rect x="719" y="148" width="1" height="61" fill="#32cd32" />
<rect x="718" y="151" width="3" height="52" fill="#32cd32" />
<rect x="723" y="199" width="1" height="35" fill="#32cd32" />
<rect x="722" y="203" width="3" height="6" fill="#32cd32" />
<rect x="727" y="186" width="1" height="1" fill="#000000" />
<rect x="726" y="186" width="3" height="1" fill="#000000" />
<rect x="731" y="167" width="1" height="40" fill="#ff0000" />
<rect x="730" y="169" width="3" height="18" fill="#ff0000" />
<rect x="731" y="170" width="1" height="16" fill="#ff5000" />
<rect x="735" y="159" width="1" height="20" fill="#ff0000" />
<rect x="734" y="168" width="3" height="2" fill="#ff0000" />
<rect x="739" y="158" width="1" height="19" fill="#ff0000" />
<rect x="738" y="163" width="3" height="5" fill="#ff0000" />
<rect x="739" y="164" width="1" height="3" fill="#ff5000" />
<rect x="743" y="155" width="1" height="27" fill="#32cd32" />
<rect x="742" y="163" width="3" height="17" fill="#32cd32" />
<rect x="747" y="160" width="1" height="22" fill="#ff0000" />
<rect x="746" y="178" width="3" height="3" fill="#ff0000" />
<rect x="747" y="179" width="1" height="1" fill="#ff5000" />
<rect x="751" y="170" width="1" height="12" fill="#ff0000" />
<rect x="750" y="173" width="3" height="6" fill="#ff0000" />
<rect x="751" y="174" width="1" height="4" fill="#ff5000" />
<rect x="755" y="152" width="1" height="22" fill="#ff0000" />
<rect x="754" y="162" width="3" height="10" fill="#ff0000" />
<rect x="755" y="163" width="1" height="8" fill="#ff5000" />
<rect x="759" y="156" width="1" height="23" fill="#ff0000" />
<rect x="758" y="160" width="3" height="2" fill="#ff0000" />
<rect x="763" y="147" width="1" height="30" fill="#ff0000" />
<rect x="762" y="156" width="3" height="6" fill="#ff0000" />
<rect x="763" y="157" width="1" height="4" fill="#ff5000" />
<rect x="767" y="140" width="1" height="26" fill="#32cd32" />
<rect x="766" y="155" width="3" height="3" fill="#32cd32" />
<rect x="771" y="143" width="1" height="18" fill="#ff0000" />
<rect x="770" y="146" width="3" height="12" fill="#ff0000" />
<rect x="771" y="147" width="1" height="10" fill="#ff5000" />
<rect x="775" y="136" width="1" height="18" fill="#ff0000" />
<rect x="774" y="147" width="3" height="2" fill="#ff0000" />
<rect x="779" y="129" width="1" height="24" fill="#32cd32" />
<rect x="778" y="147" width="3" height="3" fill="#32cd32" />
<rect x="783" y="147" width="1" height="23" fill="#32cd32" />
<rect x="782" y="150" width="3" height="12" fill="#32cd32" />
<rect x="787" y="158" width="1" height="24" fill="#32cd32" />
<rect x="786" y="161" width="3" height="14" fill="#32cd32" />
<rect x="791" y="168" width="1" height="35" fill="#32cd32" />
<rect x="790" y="175" width="3" height="15" fill="#32cd32" />
<rect x="795" y="186" width="1" height="19" fill="#32cd32" />
<rect x="794" y="189" width="3" height="11" fill="#32cd32" />
<rect x="799" y="185" width="1" height="18" fill="#ff0000" />
<rect x="798" y="187" width="3" height="12" fill="#ff0000" />
<rect x="799" y="188" width="1" height="10" fill="#ff5000" />
<rect x="803" y="179" width="1" height="32" fill="#32cd32" />
<rect x="802" y="187" width="3" height="10" fill="#32cd32" />
<rect x="807" y="185" width="1" height="25" fill="#ff0000" />
<rect x="806" y="191" width="3" height="6" fill="#ff0000" />
<rect x="807" y="192" width="1" height="4" fill="#ff5000" />
<rect x="811" y="182" width="1" height="17" fill="#32cd32" />
<rect x="810" y="191" width="3" height="5" fill="#32cd32" />
<rect x="815" y="184" width="1" height="14" fill="#ff0000" />
<rect x="814" y="186" width="3" height="10" fill="#ff0000" />
<rect x="815" y="187" width="1" height="8" fill="#ff5000" />
<rect x="819" y="185" width="1" height="11" fill="#32cd32" />
<rect x="818" y="188" width="3" height="8" fill="#32cd32" />
<rect x="823" y="183" width="1" height="18" fill="#ff0000" />
<rect x="822" y="185" width="3" height="9" fill="#ff0000" />
<rect x="823" y="186" width="1" height="7" fill="#ff5000" />
<rect x="827" y="170" width="1" height="28" fill="#ff0000" />
<rect x="826" y="178" width="3" height="10" fill="#ff0000" />
<rect x="827" y="179" width="1" height="8" fill="#ff5000" />
<rect x="831" y="159" width="1" height="22" fill="#ff0000" />
<rect x="830" y="162" width="3" height="18" fill="#ff0000" />
<rect x="831" y="163" width="1" height="16" fill="#ff5000" />
<rect x="835" y="138" width="1" height="25" fill="#ff0000" />
<rect x="834" y="148" width="3" height="15" fill="#ff0000" />
<rect x="835" y="149" width="1" height="13" fill="#ff5000" />
<rect x="839" y="141" width="1" height="15" fill="#32cd32" />
<rect x="838" y="148" width="3" height="2" fill="#32cd32" />
<rect x="843" y="138" width="1" height="16" fill="#ff0000" />
<rect x="842" y="140" width="3" height="10" fill="#ff0000" />
<rect x="843" y="141" width="1" height="8" fill="#ff5000" />
<rect x="847" y="142" width="1" height="19" fill="#32cd32" />
<rect x="846" y="152" width="3" height="2" fill="#32cd32" />
<rect x="851" y="153" width="1" height="28" fill="#32cd32" />
<rect x="850" y="154" width="3" height="22" fill="#32cd32" />
<rect x="855" y="159" width="1" height="23" fill="#ff0000" />
<rect x="854" y="160" width="3" height="16" fill="#ff0000" />
<rect x="855" y="161" width="1" height="14" fill="#ff5000" />
<rect x="859" y="154" width="1" height="14" fill="#32cd32" />
<rect x="858" y="160" width="3" height="5" fill="#32cd32" />
<rect x="863" y="149" width="1" height="17" fill="#ff0000" />
<rect x="862" y="153" width="3" height="12" fill="#ff0000" />
<rect x="863" y="154" width="1" height="10" fill="#ff5000" />
<rect x="867" y="123" width="1" height="35" fill="#ff0000" />
<rect x="866" y="142" width="3" height="10" fill="#ff0000" />
<rect x="867" y="143" width="1" height="8" fill="#ff5000" />
<rect x="871" y="130" width="1" height="21" fill="#32cd32" />
<rect x="870" y="142" width="3" height="4" fill="#32cd32" />
<rect x="875" y="125" width="1" height="51" fill="#ff0000" />
<rect x="874" y="139" width="3" height="8" fill="#ff0000" />
<rect x="875" y="140" width="1" height="6" fill="#ff5000" />
<rect x="879" y="133" width="1" height="17" fill="#32cd32" />
<rect x="878" y="138" width="3" height="8" fill="#32cd32" />
<rect x="883" y="122" width="1" height="26" fill="#ff0000" />
<rect x="882" y="123" width="3" height="23" fill="#ff0000" />
<rect x="883" y="124" width="1" height="21" fill="#ff5000" />
<rect x="887" y="108" width="1" height="17" fill="#ff0000" />
<rect x="886" y="114" width="3" height="10" fill="#ff0000" />
<rect x="887" y="115" width="1" height="8" fill="#ff5000" />
<rect x="891" y="112" width="1" height="17" fill="#32cd32" />
<rect x="890" y="113" width="3" height="14" fill="#32cd32" />
<rect x="895" y="117" width="1" height="16" fill="#32cd32" />
<rect x="894" y="123" width="3" height="2" fill="#32cd32" />
<rect x="899" y="118" width="1" height="16" fill="#ff0000" />
<rect x="898" y="121" width="3" height="4" fill="#ff0000" />
<rect x="899" y="122" width="1" height="2" fill="#ff5000" />
<rect x="903" y="113" width="1" height="13" fill="#ff0000" />
<rect x="902" y="121" width="3" height="1" fill="#ff0000" />
<rect x="907" y="107" width="1" height="21" fill="#ff0000" />
<rect x="906" y="115" width="3" height="7" fill="#ff0000" />
<rect x="907" y="116" width="1" height="5" fill="#ff5000" />
<rect x="911" y="113" width="1" height="63" fill="#32cd32" />
<rect x="910" y="116" width="3" height="50" fill="#32cd32" />
<rect x="915" y="153" width="1" height="15" fill="#ff0000" />
<rect x="914" y="157" width="3" height="9" fill="#ff0000" />
<rect x="915" y="158" width="1" height="7" fill="#ff5000" />
<rect x="919" y="142" width="1" height="21" fill="#32cd32" />
<rect x="918" y="157" width="3" height="2" fill="#32cd32" />
<rect x="923" y="157" width="1" height="25" fill="#32cd32" />
<rect x="922" y="159" width="3" height="4" fill="#32cd32" />
<rect x="927" y="142" width="1" height="24" fill="#ff0000" />
<rect x="926" y="151" width="3" height="12" fill="#ff0000" />
<rect x="927" y="152" width="1" height="10" fill="#ff5000" />
<rect x="931" y="149" width="1" height="30" fill="#32cd32" />
<rect x="930" y="151" width="3" height="12" fill="#32cd32" />
<rect x="935" y="153" width="1" height="25" fill="#32cd32" />
<rect x="934" y="163" width="3" height="8" fill="#32cd32" />
<rect x="939" y="154" width="1" height="21" fill="#ff0000" />
<rect x="938" y="167" width="3" height="3" fill="#ff0000" />
<rect x="939" y="168" width="1" height="1" fill="#ff5000" />
<rect x="943" y="146" width="1" height="24" fill="#ff0000" />
<rect x="942" y="157" width="3" height="13" fill="#ff0000" />
<rect x="943" y="158" width="1" height="11" fill="#ff5000" />
<rect x="947" y="146" width="1" height="15" fill="#ff0000" />
<rect x="946" y="147" width="3" height="11" fill="#ff0000" />
<rect x="947" y="148" width="1" height="9" fill="#ff5000" />
<rect x="951" y="137" width="1" height="23" fill="#ff0000" />
<rect x="950" y="145" width="3" height="2" fill="#ff0000" />
<rect x="955" y="113" width="1" height="46" fill="#ff0000" />
<rect x="954" y="115" width="3" height="31" fill="#ff0000" />
<rect x="955" y="116" width="1" height="29" fill="#ff5000" />
<rect x="959" y="113" width="1" height="28" fill="#32cd32" />
<rect x="958" y="115" width="3" height="18" fill="#32cd32" />
<rect x="963" y="193" width="1" height="23" fill="#32cd32" />
<rect x="962" y="210" width="3" height="6" fill="#32cd32" />
<rect x="967" y="214" width="1" height="103" fill="#32cd32" />
<rect x="966" y="215" width="3" height="80" fill="#32cd32" />
<rect x="971" y="275" width="1" height="43" fill="#ff0000" />
<rect x="970" y="280" width="3" height="15" fill="#ff0000" />
<rect x="971" y="281" width="1" height="13" fill="#ff5000" />
<rect x="975" y="268" width="1" height="49" fill="#32cd32" />
<rect x="974" y="280" width="3" height="30" fill="#32cd32" />
<rect x="979" y="308" width="1" height="25" fill="#32cd32" />
<rect x="978" y="310" width="3" height="4" fill="#32cd32" />
<rect x="983" y="311" width="1" height="22" fill="#32cd32" />
<rect x="982" y="312" width="3" height="18" fill="#32cd32" />
<rect x="987" y="307" width="1" height="79" fill="#32cd32" />
<rect x="986" y="330" width="3" height="55" fill="#32cd32" />
<rect x="991" y="384" width="1" height="54" fill="#32cd32" />
<rect x="990" y="384" width="3" height="25" fill="#32cd32" />
<rect x="995" y="408" width="1" height="45" fill="#32cd32" />
<rect x="994" y="409" width="3" height="18" fill="#32cd32" />
<rect x="999" y="398" width="1" height="58" fill="#ff0000" />
<rect x="998" y="404" width="3" height="23" fill="#ff0000" />
<rect x="999" y="405" width="1" height="21" fill="#ff5000" />
<rect x="1003" y="382" width="1" height="36" fill="#ff0000" />
<rect x="1002" y="404" width="3" height="2" fill="#ff0000" />
<rect x="1007" y="380" width="1" height="29" fill="#ff0000" />
<rect x="1006" y="382" width="3" height="22" fill="#ff0000" />
<rect x="1007" y="383" width="1" height="20" fill="#ff5000" />
<rect x="1011" y="343" width="1" height="60" fill="#ff0000" />
<rect x="1010" y="346" width="3" height="37" fill="#ff0000" />
<rect x="1011" y="347" width="1" height="35" fill="#ff5000" />
<rect x="1015" y="333" width="1" height="33" fill="#32cd32" />
<rect x="1014" y="346" width="3" height="6" fill="#32cd32" />
<rect x="1019" y="343" width="1" height="34" fill="#32cd32" />
<rect x="1018" y="352" width="3" height="25" fill="#32cd32" />
<rect x="1023" y="354" width="1" height="23" fill="#ff0000" />
<rect x="1022" y="362" width="3" height="15" fill="#ff0000" />
<rect x="1023" y="363" width="1" height="13" fill="#ff5000" />
<rect x="1027" y="356" width="1" height="19" fill="#32cd32" />
<rect x="1026" y="363" width="3" height="2" fill="#32cd32" />
<rect x="1031" y="347" width="1" height="30" fill="#ff0000" />
<rect x="1030" y="348" width="3" height="17" fill="#ff0000" />
<rect x="1031" y="349" width="1" height="15" fill="#ff5000" />
<rect x="1035" y="321" width="1" height="28" fill="#ff0000" />
<rect x="1034" y="321" width="3" height="28" fill="#ff0000" />
<rect x="1035" y="322" width="1" height="26" fill="#ff5000" />
</g>
<text x="18.3" y="40" font-size="10" fill="#000" textLength="55.8" lengthAdjust="spacingAndGlyphs" >USDCNH,H4</text>
<text x="80" y="40" font-size="10" fill="#000" textLength="141.2" lengthAdjust="spacingAndGlyphs" >6.86560 6.87620 6.86552 6.87611</text>
<path d="M6 39.5L10 35L14 39.5Z" fill="#000"/>
<text x="7" y="481" font-size="10" fill="#000" textLength="153.9" lengthAdjust="spacingAndGlyphs" >MACD(12,26,9) -0.015345 -0.021235</text>
<defs>
<linearGradient id="gBtn" x1="0" y1="48" x2="0" y2="72" gradientUnits="userSpaceOnUse"><stop offset="0" stop-color="#f95454"/><stop offset="1" stop-color="#dc3434"/></linearGradient>
<linearGradient id="gLow" x1="0" y1="72" x2="0" y2="112" gradientUnits="userSpaceOnUse"><stop offset="0" stop-color="#e33434"/><stop offset="0.5" stop-color="#cc1c1c"/><stop offset="1" stop-color="#b00404"/></linearGradient>
<linearGradient id="gSpin" x1="0" y1="49" x2="0" y2="69" gradientUnits="userSpaceOnUse"><stop offset="0" stop-color="#f4f4f4"/><stop offset="0.45" stop-color="#e2e2e2"/><stop offset="0.5" stop-color="#d2d2d2"/><stop offset="1" stop-color="#c6c6c6"/></linearGradient>
</defs>
<rect x="58" y="48" width="115" height="24" fill="#ffffff" />
<rect x="6" y="48" width="52" height="24" fill="url(#gBtn)" />
<rect x="6" y="48" width="52" height="1" fill="#e04040" />
<rect x="6" y="48" width="1" height="24" fill="#e04040" />
<rect x="57" y="48" width="1" height="24" fill="#d03030" />
<rect x="173" y="48" width="52" height="24" fill="url(#gBtn)" />
<rect x="173" y="48" width="52" height="1" fill="#e04040" />
<rect x="173" y="48" width="1" height="24" fill="#d03030" />
<rect x="224" y="48" width="1" height="24" fill="#d03030" />
<rect x="6" y="72" width="109" height="40" fill="url(#gLow)" />
<rect x="117" y="72" width="108" height="40" fill="url(#gLow)" />
<rect x="115" y="72" width="2" height="40" fill="#fbeaea" />
<rect x="58" y="72" width="57" height="1" fill="#b81010" />
<rect x="117" y="72" width="56" height="1" fill="#b81010" />
<rect x="6" y="111" width="109" height="1" fill="#a80000" />
<rect x="117" y="111" width="108" height="1" fill="#a80000" />
<rect x="114" y="73" width="1" height="39" fill="#b01010" />
<rect x="117" y="73" width="1" height="39" fill="#b01010" />
<rect x="10" y="71" width="44" height="1" fill="#c02020" />
<rect x="10" y="72" width="44" height="1" fill="#f08888" />
<rect x="177" y="71" width="44" height="1" fill="#c02020" />
<rect x="177" y="72" width="44" height="1" fill="#f08888" />
<rect x="60.5" y="48.5" width="110" height="21" fill="#ffffff" stroke="#a4a4ac" stroke-width="1"/>
<rect x="61" y="49" width="20" height="20" fill="url(#gSpin)" />
<rect x="81" y="49" width="1" height="20" fill="#b4b4bc" />
<rect x="150" y="49" width="20" height="20" fill="url(#gSpin)" />
<rect x="149" y="49" width="1" height="20" fill="#b4b4bc" />
<path d="M68 57H73.4L70.7 60Z" fill="#4c5cc4"/>
<path d="M157.2 60H162.6L159.9 57Z" fill="#4c5cc4"/>
<text x="122.5" y="63" font-size="12" fill="#101030" textLength="23.2" lengthAdjust="spacingAndGlyphs" >3.00</text>
<text x="18" y="64" font-size="12" fill="#ffffff" textLength="26" lengthAdjust="spacingAndGlyphs" >SELL</text>
<text x="186.3" y="64" font-size="12" fill="#ffffff" textLength="23.5" lengthAdjust="spacingAndGlyphs" >BUY</text>
<text x="26" y="103.3" font-size="12.5" fill="#ffffff" textLength="23.2" lengthAdjust="spacingAndGlyphs" font-weight="bold" >6.87</text>
<text x="53.6" y="103.3" font-size="34.5" fill="#ffffff" stroke="url(#gLow)" stroke-width="0.5" textLength="34.5" lengthAdjust="spacingAndGlyphs">61</text>
<text x="93.2" y="87" font-size="12" fill="#ffffff" font-weight="bold" >1</text>
<text x="136" y="103.3" font-size="12.5" fill="#ffffff" textLength="23.2" lengthAdjust="spacingAndGlyphs" font-weight="bold" >6.87</text>
<text x="163.6" y="103.3" font-size="34.5" fill="#ffffff" stroke="url(#gLow)" stroke-width="0.5" textLength="36" lengthAdjust="spacingAndGlyphs">84</text>
<text x="203.2" y="87" font-size="12" fill="#ffffff" font-weight="bold" >8</text>
<text x="16.6" y="664" font-size="12.3" fill="#6e6e6e" textLength="67.2" lengthAdjust="spacingAndGlyphs" >EURUSD,H1</text>
<text x="106.7" y="664" font-size="12.3" fill="#6e6e6e" textLength="66.3" lengthAdjust="spacingAndGlyphs" >USDCHF,H4</text>
<text x="195.9" y="664" font-size="12.3" fill="#6e6e6e" textLength="68" lengthAdjust="spacingAndGlyphs" >USDCAD,H4</text>
<text x="287.2" y="664" font-size="12.3" fill="#6e6e6e" textLength="69.7" lengthAdjust="spacingAndGlyphs" >AUDUSD,H4</text>
<rect x="96" y="652" width="1" height="14" fill="#5a5a5a" />
<rect x="184" y="652" width="1" height="14" fill="#5a5a5a" />
<rect x="277" y="652" width="1" height="14" fill="#5a5a5a" />
<rect x="368" y="648" width="92" height="20" fill="#ffffff" />
<rect x="368" y="649" width="1" height="19" fill="#000" />
<rect x="459" y="649" width="1" height="19" fill="#000" />
<rect x="368" y="667" width="92" height="1" fill="#000" />
<rect x="369" y="647" width="90" height="1" fill="#ffffff" />
<text x="378.3" y="664" font-size="12.3" fill="#000" textLength="70.6" lengthAdjust="spacingAndGlyphs" >USDCNH,H4</text>
<path d="M1322 654.5V661.5L1318.5 658Z" fill="#a8a8a8"/>
<path d="M1338 654.5V661.5L1341.5 658Z" fill="#a8a8a8"/>
</svg>
</body></html>
